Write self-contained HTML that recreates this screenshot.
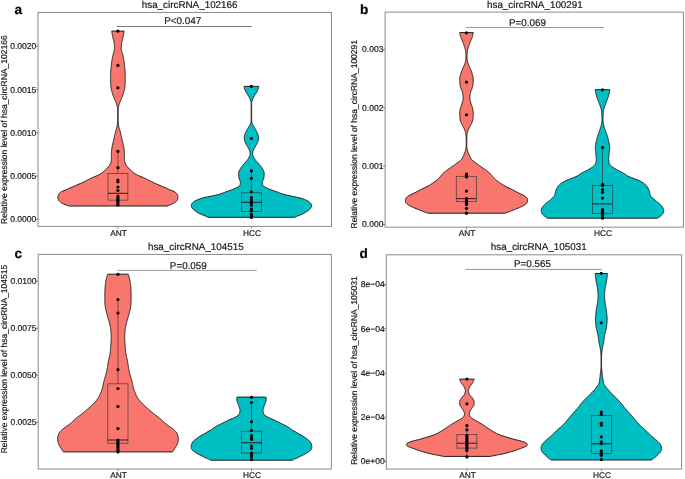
<!DOCTYPE html><html><head><meta charset="utf-8"><style>html,body{margin:0;padding:0;background:#fff;width:685px;height:479px;overflow:hidden}svg{display:block;will-change:transform}text{font-family:"Liberation Sans",sans-serif;fill:#1a1a1a;text-rendering:geometricPrecision;stroke:#1a1a1a;stroke-width:0.2px}</style></head><body>
<svg width="685" height="479" viewBox="0 0 685 479">
<rect width="685" height="479" fill="#fff"/>
<path d="M124.15,31.10 L124.05,31.60 L123.96,32.10 L123.86,32.60 L123.77,33.10 L123.67,33.60 L123.57,34.10 L123.47,34.60 L123.38,35.10 L123.28,35.60 L123.18,36.10 L123.08,36.60 L122.98,37.10 L122.88,37.60 L122.78,38.10 L122.67,38.60 L122.55,39.10 L122.42,39.60 L122.29,40.10 L122.16,40.60 L122.02,41.10 L121.89,41.60 L121.77,42.10 L121.66,42.60 L121.56,43.10 L121.48,43.60 L121.41,44.10 L121.37,44.60 L121.35,45.10 L121.34,45.60 L121.33,46.10 L121.32,46.60 L121.31,47.10 L121.31,47.60 L121.30,48.10 L121.30,48.60 L121.31,49.10 L121.34,49.60 L121.41,50.10 L121.51,50.60 L121.62,51.10 L121.76,51.60 L121.91,52.10 L122.06,52.60 L122.23,53.10 L122.40,53.60 L122.56,54.10 L122.72,54.60 L122.86,55.10 L123.00,55.60 L123.11,56.10 L123.21,56.60 L123.30,57.10 L123.39,57.60 L123.48,58.10 L123.57,58.60 L123.65,59.10 L123.74,59.60 L123.82,60.10 L123.90,60.60 L123.97,61.10 L124.05,61.60 L124.12,62.10 L124.19,62.60 L124.25,63.10 L124.31,63.60 L124.37,64.10 L124.43,64.60 L124.48,65.10 L124.53,65.60 L124.58,66.10 L124.63,66.60 L124.68,67.10 L124.73,67.60 L124.78,68.10 L124.83,68.60 L124.87,69.10 L124.92,69.60 L124.96,70.10 L125.00,70.60 L125.04,71.10 L125.07,71.60 L125.11,72.10 L125.13,72.60 L125.16,73.10 L125.17,73.60 L125.19,74.10 L125.20,74.60 L125.20,75.10 L125.20,75.60 L125.20,76.10 L125.20,76.60 L125.20,77.10 L125.20,77.60 L125.20,78.10 L125.20,78.60 L125.20,79.10 L125.20,79.60 L125.20,80.10 L125.20,80.60 L125.20,81.10 L125.20,81.60 L125.20,82.10 L125.20,82.60 L125.19,83.10 L125.17,83.60 L125.14,84.10 L125.11,84.60 L125.06,85.10 L125.01,85.60 L124.96,86.10 L124.90,86.60 L124.84,87.10 L124.78,87.60 L124.71,88.10 L124.63,88.60 L124.53,89.10 L124.42,89.60 L124.31,90.10 L124.18,90.60 L124.04,91.10 L123.90,91.60 L123.76,92.10 L123.62,92.60 L123.47,93.10 L123.32,93.60 L123.16,94.10 L122.99,94.60 L122.82,95.10 L122.64,95.60 L122.45,96.10 L122.26,96.60 L122.07,97.10 L121.87,97.60 L121.68,98.10 L121.48,98.60 L121.27,99.10 L121.04,99.60 L120.80,100.10 L120.56,100.60 L120.33,101.10 L120.10,101.60 L119.88,102.10 L119.68,102.60 L119.50,103.10 L119.35,103.60 L119.21,104.10 L119.07,104.60 L118.93,105.10 L118.80,105.60 L118.67,106.10 L118.54,106.60 L118.43,107.10 L118.34,107.60 L118.26,108.10 L118.20,108.60 L118.16,109.10 L118.15,109.60 L118.15,110.10 L118.15,110.60 L118.15,111.10 L118.15,111.60 L118.15,112.10 L118.15,112.60 L118.15,113.10 L118.15,113.60 L118.15,114.10 L118.15,114.60 L118.15,115.10 L118.15,115.60 L118.15,116.10 L118.15,116.60 L118.15,117.10 L118.15,117.60 L118.15,118.10 L118.16,118.60 L118.17,119.10 L118.18,119.60 L118.20,120.10 L118.22,120.60 L118.24,121.10 L118.27,121.60 L118.30,122.10 L118.33,122.60 L118.36,123.10 L118.39,123.60 L118.43,124.10 L118.47,124.60 L118.51,125.10 L118.57,125.60 L118.64,126.10 L118.74,126.60 L118.86,127.10 L118.99,127.60 L119.14,128.10 L119.29,128.60 L119.45,129.10 L119.61,129.60 L119.77,130.10 L119.93,130.60 L120.09,131.10 L120.24,131.60 L120.37,132.10 L120.50,132.60 L120.62,133.10 L120.73,133.60 L120.84,134.10 L120.95,134.60 L121.06,135.10 L121.16,135.60 L121.27,136.10 L121.37,136.60 L121.48,137.10 L121.58,137.60 L121.69,138.10 L121.79,138.60 L121.90,139.10 L122.01,139.60 L122.12,140.10 L122.24,140.60 L122.36,141.10 L122.49,141.60 L122.62,142.10 L122.75,142.60 L122.88,143.10 L123.01,143.60 L123.13,144.10 L123.25,144.60 L123.37,145.10 L123.48,145.60 L123.58,146.10 L123.67,146.60 L123.75,147.10 L123.83,147.60 L123.91,148.10 L123.99,148.60 L124.06,149.10 L124.13,149.60 L124.19,150.10 L124.24,150.60 L124.27,151.10 L124.30,151.60 L124.32,152.10 L124.33,152.60 L124.35,153.10 L124.36,153.60 L124.37,154.10 L124.38,154.60 L124.39,155.10 L124.40,155.60 L124.40,156.10 L124.40,156.60 L124.40,157.10 L124.40,157.60 L124.40,158.10 L124.40,158.60 L124.40,159.10 L124.40,159.60 L124.40,160.10 L124.45,160.60 L124.56,161.10 L124.69,161.60 L124.83,162.10 L124.97,162.60 L125.14,163.10 L125.33,163.60 L125.55,164.10 L125.82,164.60 L126.15,165.10 L126.51,165.60 L126.87,166.10 L127.27,166.60 L127.69,167.10 L128.14,167.60 L128.59,168.10 L129.07,168.60 L129.57,169.10 L130.09,169.60 L130.60,170.10 L131.11,170.60 L131.61,171.10 L132.15,171.60 L132.74,172.10 L133.37,172.60 L134.03,173.10 L134.76,173.60 L135.55,174.10 L136.45,174.60 L137.51,175.10 L138.62,175.60 L139.78,176.10 L140.99,176.60 L142.22,177.10 L143.40,177.60 L144.51,178.10 L145.55,178.60 L146.54,179.10 L147.49,179.60 L148.44,180.10 L149.40,180.60 L150.39,181.10 L151.42,181.60 L152.47,182.10 L153.53,182.60 L154.60,183.10 L155.69,183.60 L156.79,184.10 L157.90,184.60 L159.03,185.10 L160.18,185.60 L161.35,186.10 L162.54,186.60 L163.74,187.10 L164.92,187.60 L166.08,188.10 L167.23,188.60 L168.36,189.10 L169.50,189.60 L170.63,190.10 L171.86,190.60 L173.11,191.10 L174.22,191.60 L175.04,192.10 L175.66,192.60 L176.20,193.10 L176.63,193.60 L176.96,194.10 L177.24,194.60 L177.48,195.10 L177.66,195.60 L177.77,196.10 L177.84,196.60 L177.90,197.10 L177.94,197.60 L177.95,198.10 L177.87,198.60 L177.71,199.10 L177.49,199.60 L177.25,200.10 L176.91,200.60 L176.45,201.10 L175.92,201.60 L175.33,202.10 L174.63,202.60 L173.81,203.10 L172.89,203.60 L171.90,204.10 L170.80,204.60 L169.57,205.10 L168.24,205.60 L167.10,206.00 L68.70,206.00 L67.56,205.60 L66.23,205.10 L65.00,204.60 L63.90,204.10 L62.91,203.60 L61.99,203.10 L61.17,202.60 L60.47,202.10 L59.88,201.60 L59.35,201.10 L58.89,200.60 L58.55,200.10 L58.31,199.60 L58.09,199.10 L57.93,198.60 L57.85,198.10 L57.86,197.60 L57.90,197.10 L57.96,196.60 L58.03,196.10 L58.14,195.60 L58.32,195.10 L58.56,194.60 L58.84,194.10 L59.17,193.60 L59.60,193.10 L60.14,192.60 L60.76,192.10 L61.58,191.60 L62.69,191.10 L63.94,190.60 L65.17,190.10 L66.30,189.60 L67.44,189.10 L68.57,188.60 L69.72,188.10 L70.88,187.60 L72.06,187.10 L73.26,186.60 L74.45,186.10 L75.62,185.60 L76.77,185.10 L77.90,184.60 L79.01,184.10 L80.11,183.60 L81.20,183.10 L82.27,182.60 L83.33,182.10 L84.38,181.60 L85.41,181.10 L86.40,180.60 L87.36,180.10 L88.31,179.60 L89.26,179.10 L90.25,178.60 L91.29,178.10 L92.40,177.60 L93.58,177.10 L94.81,176.60 L96.02,176.10 L97.18,175.60 L98.29,175.10 L99.35,174.60 L100.25,174.10 L101.04,173.60 L101.77,173.10 L102.43,172.60 L103.06,172.10 L103.65,171.60 L104.19,171.10 L104.69,170.60 L105.20,170.10 L105.71,169.60 L106.23,169.10 L106.73,168.60 L107.21,168.10 L107.66,167.60 L108.11,167.10 L108.53,166.60 L108.93,166.10 L109.29,165.60 L109.65,165.10 L109.98,164.60 L110.25,164.10 L110.47,163.60 L110.66,163.10 L110.83,162.60 L110.97,162.10 L111.11,161.60 L111.24,161.10 L111.35,160.60 L111.40,160.10 L111.40,159.60 L111.40,159.10 L111.40,158.60 L111.40,158.10 L111.40,157.60 L111.40,157.10 L111.40,156.60 L111.40,156.10 L111.40,155.60 L111.41,155.10 L111.42,154.60 L111.43,154.10 L111.44,153.60 L111.45,153.10 L111.47,152.60 L111.48,152.10 L111.50,151.60 L111.53,151.10 L111.56,150.60 L111.61,150.10 L111.67,149.60 L111.74,149.10 L111.81,148.60 L111.89,148.10 L111.97,147.60 L112.05,147.10 L112.13,146.60 L112.22,146.10 L112.32,145.60 L112.43,145.10 L112.55,144.60 L112.67,144.10 L112.79,143.60 L112.92,143.10 L113.05,142.60 L113.18,142.10 L113.31,141.60 L113.44,141.10 L113.56,140.60 L113.68,140.10 L113.79,139.60 L113.90,139.10 L114.01,138.60 L114.11,138.10 L114.22,137.60 L114.32,137.10 L114.43,136.60 L114.53,136.10 L114.64,135.60 L114.74,135.10 L114.85,134.60 L114.96,134.10 L115.07,133.60 L115.18,133.10 L115.30,132.60 L115.43,132.10 L115.56,131.60 L115.71,131.10 L115.87,130.60 L116.03,130.10 L116.19,129.60 L116.35,129.10 L116.51,128.60 L116.66,128.10 L116.81,127.60 L116.94,127.10 L117.06,126.60 L117.16,126.10 L117.23,125.60 L117.29,125.10 L117.33,124.60 L117.37,124.10 L117.41,123.60 L117.44,123.10 L117.47,122.60 L117.50,122.10 L117.53,121.60 L117.56,121.10 L117.58,120.60 L117.60,120.10 L117.62,119.60 L117.63,119.10 L117.64,118.60 L117.65,118.10 L117.65,117.60 L117.65,117.10 L117.65,116.60 L117.65,116.10 L117.65,115.60 L117.65,115.10 L117.65,114.60 L117.65,114.10 L117.65,113.60 L117.65,113.10 L117.65,112.60 L117.65,112.10 L117.65,111.60 L117.65,111.10 L117.65,110.60 L117.65,110.10 L117.65,109.60 L117.64,109.10 L117.60,108.60 L117.54,108.10 L117.46,107.60 L117.37,107.10 L117.26,106.60 L117.13,106.10 L117.00,105.60 L116.87,105.10 L116.73,104.60 L116.59,104.10 L116.45,103.60 L116.30,103.10 L116.12,102.60 L115.92,102.10 L115.70,101.60 L115.47,101.10 L115.24,100.60 L115.00,100.10 L114.76,99.60 L114.53,99.10 L114.32,98.60 L114.12,98.10 L113.93,97.60 L113.73,97.10 L113.54,96.60 L113.35,96.10 L113.16,95.60 L112.98,95.10 L112.81,94.60 L112.64,94.10 L112.48,93.60 L112.33,93.10 L112.18,92.60 L112.04,92.10 L111.90,91.60 L111.76,91.10 L111.62,90.60 L111.49,90.10 L111.38,89.60 L111.27,89.10 L111.17,88.60 L111.09,88.10 L111.02,87.60 L110.96,87.10 L110.90,86.60 L110.84,86.10 L110.79,85.60 L110.74,85.10 L110.69,84.60 L110.66,84.10 L110.63,83.60 L110.61,83.10 L110.60,82.60 L110.60,82.10 L110.60,81.60 L110.60,81.10 L110.60,80.60 L110.60,80.10 L110.60,79.60 L110.60,79.10 L110.60,78.60 L110.60,78.10 L110.60,77.60 L110.60,77.10 L110.60,76.60 L110.60,76.10 L110.60,75.60 L110.60,75.10 L110.60,74.60 L110.61,74.10 L110.63,73.60 L110.64,73.10 L110.67,72.60 L110.69,72.10 L110.73,71.60 L110.76,71.10 L110.80,70.60 L110.84,70.10 L110.88,69.60 L110.93,69.10 L110.97,68.60 L111.02,68.10 L111.07,67.60 L111.12,67.10 L111.17,66.60 L111.22,66.10 L111.27,65.60 L111.32,65.10 L111.37,64.60 L111.43,64.10 L111.49,63.60 L111.55,63.10 L111.61,62.60 L111.68,62.10 L111.75,61.60 L111.83,61.10 L111.90,60.60 L111.98,60.10 L112.06,59.60 L112.15,59.10 L112.23,58.60 L112.32,58.10 L112.41,57.60 L112.50,57.10 L112.59,56.60 L112.69,56.10 L112.80,55.60 L112.94,55.10 L113.08,54.60 L113.24,54.10 L113.40,53.60 L113.57,53.10 L113.74,52.60 L113.89,52.10 L114.04,51.60 L114.18,51.10 L114.29,50.60 L114.39,50.10 L114.46,49.60 L114.49,49.10 L114.50,48.60 L114.50,48.10 L114.49,47.60 L114.49,47.10 L114.48,46.60 L114.47,46.10 L114.46,45.60 L114.45,45.10 L114.43,44.60 L114.39,44.10 L114.32,43.60 L114.24,43.10 L114.14,42.60 L114.03,42.10 L113.91,41.60 L113.78,41.10 L113.64,40.60 L113.51,40.10 L113.38,39.60 L113.25,39.10 L113.13,38.60 L113.02,38.10 L112.92,37.60 L112.82,37.10 L112.72,36.60 L112.62,36.10 L112.52,35.60 L112.42,35.10 L112.33,34.60 L112.23,34.10 L112.13,33.60 L112.03,33.10 L111.94,32.60 L111.84,32.10 L111.75,31.60 L111.65,31.10Z" fill="#F8766D" stroke="#1e1e1e" stroke-width="1.0" stroke-linejoin="round"/>
<path d="M258.80,86.40 L258.71,86.90 L258.60,87.40 L258.47,87.90 L258.32,88.40 L258.16,88.90 L257.98,89.40 L257.79,89.90 L257.58,90.40 L257.37,90.90 L257.16,91.40 L256.90,91.90 L256.60,92.40 L256.27,92.90 L255.92,93.40 L255.57,93.90 L255.23,94.40 L254.91,94.90 L254.61,95.40 L254.32,95.90 L254.02,96.40 L253.73,96.90 L253.46,97.40 L253.20,97.90 L252.97,98.40 L252.76,98.90 L252.56,99.40 L252.35,99.90 L252.15,100.40 L251.97,100.90 L251.82,101.40 L251.71,101.90 L251.66,102.40 L251.65,102.90 L251.65,103.40 L251.65,103.90 L251.65,104.40 L251.65,104.90 L251.65,105.40 L251.65,105.90 L251.65,106.40 L251.65,106.90 L251.65,107.40 L251.65,107.90 L251.65,108.40 L251.65,108.90 L251.65,109.40 L251.65,109.90 L251.65,110.40 L251.65,110.90 L251.65,111.40 L251.65,111.90 L251.65,112.40 L251.65,112.90 L251.65,113.40 L251.65,113.90 L251.65,114.40 L251.65,114.90 L251.65,115.40 L251.65,115.90 L251.65,116.40 L251.65,116.90 L251.65,117.40 L251.65,117.90 L251.65,118.40 L251.65,118.90 L251.65,119.40 L251.65,119.90 L251.67,120.40 L251.70,120.90 L251.74,121.40 L251.79,121.90 L251.84,122.40 L251.92,122.90 L252.08,123.40 L252.31,123.90 L252.58,124.40 L252.88,124.90 L253.21,125.40 L253.54,125.90 L253.85,126.40 L254.15,126.90 L254.41,127.40 L254.69,127.90 L254.96,128.40 L255.24,128.90 L255.52,129.40 L255.79,129.90 L256.05,130.40 L256.30,130.90 L256.56,131.40 L256.83,131.90 L257.09,132.40 L257.35,132.90 L257.58,133.40 L257.78,133.90 L257.95,134.40 L258.07,134.90 L258.19,135.40 L258.30,135.90 L258.40,136.40 L258.49,136.90 L258.55,137.40 L258.59,137.90 L258.60,138.40 L258.56,138.90 L258.48,139.40 L258.37,139.90 L258.23,140.40 L258.06,140.90 L257.89,141.40 L257.72,141.90 L257.54,142.40 L257.31,142.90 L257.06,143.40 L256.80,143.90 L256.54,144.40 L256.27,144.90 L255.99,145.40 L255.70,145.90 L255.42,146.40 L255.12,146.90 L254.80,147.40 L254.48,147.90 L254.19,148.40 L253.96,148.90 L253.76,149.40 L253.56,149.90 L253.37,150.40 L253.19,150.90 L253.02,151.40 L252.88,151.90 L252.77,152.40 L252.69,152.90 L252.65,153.40 L252.66,153.90 L252.72,154.40 L252.83,154.90 L252.98,155.40 L253.16,155.90 L253.38,156.40 L253.61,156.90 L253.85,157.40 L254.10,157.90 L254.35,158.40 L254.63,158.90 L254.96,159.40 L255.33,159.90 L255.74,160.40 L256.18,160.90 L256.63,161.40 L257.08,161.90 L257.52,162.40 L257.95,162.90 L258.36,163.40 L258.78,163.90 L259.22,164.40 L259.66,164.90 L260.09,165.40 L260.52,165.90 L260.93,166.40 L261.32,166.90 L261.68,167.40 L261.99,167.90 L262.28,168.40 L262.58,168.90 L262.88,169.40 L263.17,169.90 L263.44,170.40 L263.68,170.90 L263.88,171.40 L264.03,171.90 L264.13,172.40 L264.15,172.90 L264.15,173.40 L264.14,173.90 L264.13,174.40 L264.11,174.90 L264.09,175.40 L264.07,175.90 L264.04,176.40 L264.00,176.90 L263.97,177.40 L263.91,177.90 L263.76,178.40 L263.56,178.90 L263.34,179.40 L263.14,179.90 L262.94,180.40 L262.71,180.90 L262.51,181.40 L262.40,181.90 L262.40,182.40 L262.42,182.90 L262.45,183.40 L262.49,183.90 L262.58,184.40 L262.78,184.90 L263.07,185.40 L263.42,185.90 L263.91,186.40 L264.68,186.90 L265.61,187.40 L266.60,187.90 L267.63,188.40 L268.79,188.90 L270.04,189.40 L271.34,189.90 L272.69,190.40 L274.13,190.90 L275.60,191.40 L277.03,191.90 L278.33,192.40 L279.54,192.90 L280.78,193.40 L282.19,193.90 L283.91,194.40 L285.96,194.90 L288.19,195.40 L290.46,195.90 L292.77,196.40 L295.27,196.90 L297.71,197.40 L299.84,197.90 L301.55,198.40 L303.08,198.90 L304.44,199.40 L305.63,199.90 L306.69,200.40 L307.67,200.90 L308.52,201.40 L309.23,201.90 L309.81,202.40 L310.33,202.90 L310.76,203.40 L311.06,203.90 L311.24,204.40 L311.39,204.90 L311.50,205.40 L311.55,205.90 L311.50,206.40 L311.32,206.90 L311.06,207.40 L310.76,207.90 L310.41,208.40 L309.94,208.90 L309.39,209.40 L308.82,209.90 L308.22,210.40 L307.58,210.90 L306.89,211.40 L306.15,211.90 L305.36,212.40 L304.52,212.90 L303.60,213.40 L302.61,213.90 L301.48,214.40 L300.17,214.90 L298.83,215.40 L297.62,215.90 L296.59,216.40 L295.67,216.90 L295.00,217.30 L207.80,217.30 L207.13,216.90 L206.21,216.40 L205.18,215.90 L203.97,215.40 L202.63,214.90 L201.32,214.40 L200.19,213.90 L199.20,213.40 L198.28,212.90 L197.44,212.40 L196.65,211.90 L195.91,211.40 L195.22,210.90 L194.58,210.40 L193.98,209.90 L193.41,209.40 L192.86,208.90 L192.39,208.40 L192.04,207.90 L191.74,207.40 L191.48,206.90 L191.30,206.40 L191.25,205.90 L191.30,205.40 L191.41,204.90 L191.56,204.40 L191.74,203.90 L192.04,203.40 L192.47,202.90 L192.99,202.40 L193.57,201.90 L194.28,201.40 L195.13,200.90 L196.11,200.40 L197.17,199.90 L198.36,199.40 L199.72,198.90 L201.25,198.40 L202.96,197.90 L205.09,197.40 L207.53,196.90 L210.03,196.40 L212.34,195.90 L214.61,195.40 L216.84,194.90 L218.89,194.40 L220.61,193.90 L222.02,193.40 L223.26,192.90 L224.47,192.40 L225.77,191.90 L227.20,191.40 L228.67,190.90 L230.11,190.40 L231.46,189.90 L232.76,189.40 L234.01,188.90 L235.17,188.40 L236.20,187.90 L237.19,187.40 L238.12,186.90 L238.89,186.40 L239.38,185.90 L239.73,185.40 L240.02,184.90 L240.22,184.40 L240.31,183.90 L240.35,183.40 L240.38,182.90 L240.40,182.40 L240.40,181.90 L240.29,181.40 L240.09,180.90 L239.86,180.40 L239.66,179.90 L239.46,179.40 L239.24,178.90 L239.04,178.40 L238.89,177.90 L238.83,177.40 L238.80,176.90 L238.76,176.40 L238.73,175.90 L238.71,175.40 L238.69,174.90 L238.67,174.40 L238.66,173.90 L238.65,173.40 L238.65,172.90 L238.67,172.40 L238.77,171.90 L238.92,171.40 L239.12,170.90 L239.36,170.40 L239.63,169.90 L239.92,169.40 L240.22,168.90 L240.52,168.40 L240.81,167.90 L241.12,167.40 L241.48,166.90 L241.87,166.40 L242.28,165.90 L242.71,165.40 L243.14,164.90 L243.58,164.40 L244.02,163.90 L244.44,163.40 L244.85,162.90 L245.28,162.40 L245.72,161.90 L246.17,161.40 L246.62,160.90 L247.06,160.40 L247.47,159.90 L247.84,159.40 L248.17,158.90 L248.45,158.40 L248.70,157.90 L248.95,157.40 L249.19,156.90 L249.42,156.40 L249.64,155.90 L249.82,155.40 L249.97,154.90 L250.08,154.40 L250.14,153.90 L250.15,153.40 L250.11,152.90 L250.03,152.40 L249.92,151.90 L249.78,151.40 L249.61,150.90 L249.43,150.40 L249.24,149.90 L249.04,149.40 L248.84,148.90 L248.61,148.40 L248.32,147.90 L248.00,147.40 L247.68,146.90 L247.38,146.40 L247.10,145.90 L246.81,145.40 L246.53,144.90 L246.26,144.40 L246.00,143.90 L245.74,143.40 L245.49,142.90 L245.26,142.40 L245.08,141.90 L244.91,141.40 L244.74,140.90 L244.57,140.40 L244.43,139.90 L244.32,139.40 L244.24,138.90 L244.20,138.40 L244.21,137.90 L244.25,137.40 L244.31,136.90 L244.40,136.40 L244.50,135.90 L244.61,135.40 L244.73,134.90 L244.85,134.40 L245.02,133.90 L245.22,133.40 L245.45,132.90 L245.71,132.40 L245.97,131.90 L246.24,131.40 L246.50,130.90 L246.75,130.40 L247.01,129.90 L247.28,129.40 L247.56,128.90 L247.84,128.40 L248.11,127.90 L248.39,127.40 L248.65,126.90 L248.95,126.40 L249.26,125.90 L249.59,125.40 L249.92,124.90 L250.22,124.40 L250.49,123.90 L250.72,123.40 L250.88,122.90 L250.96,122.40 L251.01,121.90 L251.06,121.40 L251.10,120.90 L251.13,120.40 L251.15,119.90 L251.15,119.40 L251.15,118.90 L251.15,118.40 L251.15,117.90 L251.15,117.40 L251.15,116.90 L251.15,116.40 L251.15,115.90 L251.15,115.40 L251.15,114.90 L251.15,114.40 L251.15,113.90 L251.15,113.40 L251.15,112.90 L251.15,112.40 L251.15,111.90 L251.15,111.40 L251.15,110.90 L251.15,110.40 L251.15,109.90 L251.15,109.40 L251.15,108.90 L251.15,108.40 L251.15,107.90 L251.15,107.40 L251.15,106.90 L251.15,106.40 L251.15,105.90 L251.15,105.40 L251.15,104.90 L251.15,104.40 L251.15,103.90 L251.15,103.40 L251.15,102.90 L251.14,102.40 L251.09,101.90 L250.98,101.40 L250.83,100.90 L250.65,100.40 L250.45,99.90 L250.24,99.40 L250.04,98.90 L249.83,98.40 L249.60,97.90 L249.34,97.40 L249.07,96.90 L248.78,96.40 L248.48,95.90 L248.19,95.40 L247.89,94.90 L247.57,94.40 L247.23,93.90 L246.88,93.40 L246.53,92.90 L246.20,92.40 L245.90,91.90 L245.64,91.40 L245.43,90.90 L245.22,90.40 L245.01,89.90 L244.82,89.40 L244.64,88.90 L244.48,88.40 L244.33,87.90 L244.20,87.40 L244.09,86.90 L244.00,86.40Z" fill="#00BFC4" stroke="#1e1e1e" stroke-width="1.0" stroke-linejoin="round"/>
<g stroke="#333" stroke-width="0.7" fill="none" stroke-opacity="0.9"><line x1="117.9" y1="151.3" x2="117.9" y2="173.4"/><line x1="117.9" y1="200.1" x2="117.9" y2="206.0"/><rect x="108.0" y="173.4" width="19.90" height="26.70"/></g>
<line x1="108.0" y1="193.3" x2="127.9" y2="193.3" stroke="#2a2a2a" stroke-width="1.1"/>
<g stroke="#333" stroke-width="0.7" fill="none" stroke-opacity="0.9"><line x1="251.4" y1="170.9" x2="251.4" y2="192.8"/><line x1="251.4" y1="211.5" x2="251.4" y2="217.3"/><rect x="241.3" y="192.8" width="20.25" height="18.70"/></g>
<line x1="241.3" y1="202.3" x2="261.55" y2="202.3" stroke="#2a2a2a" stroke-width="1.1"/>
<circle cx="117.9" cy="31.1" r="1.6" fill="#000"/>
<circle cx="117.9" cy="65.3" r="1.6" fill="#000"/>
<circle cx="117.9" cy="87.8" r="1.6" fill="#000"/>
<circle cx="117.9" cy="151.3" r="1.6" fill="#000"/>
<circle cx="117.9" cy="167.7" r="1.6" fill="#000"/>
<circle cx="117.9" cy="180.0" r="1.6" fill="#000"/>
<circle cx="117.9" cy="181.8" r="1.6" fill="#000"/>
<circle cx="117.9" cy="187.0" r="1.6" fill="#000"/>
<circle cx="117.9" cy="190.5" r="1.6" fill="#000"/>
<circle cx="117.9" cy="196" r="1.6" fill="#000"/>
<circle cx="117.9" cy="197.5" r="1.6" fill="#000"/>
<circle cx="117.9" cy="199" r="1.6" fill="#000"/>
<circle cx="117.9" cy="200.5" r="1.6" fill="#000"/>
<circle cx="117.9" cy="202" r="1.6" fill="#000"/>
<circle cx="117.9" cy="203.5" r="1.6" fill="#000"/>
<circle cx="117.9" cy="205" r="1.6" fill="#000"/>
<circle cx="251.4" cy="86.4" r="1.6" fill="#000"/>
<circle cx="251.4" cy="138.5" r="1.6" fill="#000"/>
<circle cx="251.4" cy="170.9" r="1.6" fill="#000"/>
<circle cx="251.4" cy="178.4" r="1.6" fill="#000"/>
<circle cx="251.4" cy="191.8" r="1.6" fill="#000"/>
<circle cx="251.4" cy="197.6" r="1.6" fill="#000"/>
<circle cx="251.4" cy="199.6" r="1.6" fill="#000"/>
<circle cx="251.4" cy="201.5" r="1.6" fill="#000"/>
<circle cx="251.4" cy="203.3" r="1.6" fill="#000"/>
<circle cx="251.4" cy="205.3" r="1.6" fill="#000"/>
<circle cx="251.4" cy="209.0" r="1.6" fill="#000"/>
<circle cx="251.4" cy="210.8" r="1.6" fill="#000"/>
<circle cx="251.4" cy="214.3" r="1.6" fill="#000"/>
<circle cx="251.4" cy="216.0" r="1.6" fill="#000"/>
<circle cx="251.4" cy="217.5" r="1.6" fill="#000"/>
<rect x="38" y="12.45" width="293.50" height="213.95" fill="none" stroke="#8a8a8a" stroke-width="1"/>
<line x1="35.80" y1="46.35" x2="38" y2="46.35" stroke="#555" stroke-width="0.7"/>
<text x="36.40" y="49.35" font-size="8.55" text-anchor="end">0.0020</text>
<line x1="35.80" y1="89.67" x2="38" y2="89.67" stroke="#555" stroke-width="0.7"/>
<text x="36.40" y="92.67" font-size="8.55" text-anchor="end">0.0015</text>
<line x1="35.80" y1="132.8" x2="38" y2="132.8" stroke="#555" stroke-width="0.7"/>
<text x="36.40" y="135.80" font-size="8.55" text-anchor="end">0.0010</text>
<line x1="35.80" y1="176.0" x2="38" y2="176.0" stroke="#555" stroke-width="0.7"/>
<text x="36.40" y="179.00" font-size="8.55" text-anchor="end">0.0005</text>
<line x1="35.80" y1="219.25" x2="38" y2="219.25" stroke="#555" stroke-width="0.7"/>
<text x="36.40" y="222.25" font-size="8.55" text-anchor="end">0.0000</text>
<line x1="117.9" y1="226.4" x2="117.9" y2="228.60" stroke="#555" stroke-width="0.7"/>
<text x="118.50" y="236.0" font-size="8.3" text-anchor="middle">ANT</text>
<line x1="251.4" y1="226.4" x2="251.4" y2="228.60" stroke="#555" stroke-width="0.7"/>
<text x="252.00" y="236.0" font-size="8.3" text-anchor="middle">HCC</text>
<text x="141.75" y="8.1" font-size="9.85">hsa_circRNA_102166</text>
<text x="164.20" y="24.1" font-size="9.85">P&lt;0.047</text>
<line x1="117.05" y1="26.5" x2="251.9" y2="26.5" stroke="#7a7a7a" stroke-width="1"/>
<text x="14.40" y="13.6" font-size="13.6" font-weight="bold" fill="#000" style="fill:#000">a</text>
<text transform="translate(6.90,223.90) rotate(-90)" font-size="8.5">Relative expression level of hsa_circRNA_102166</text>
<path d="M473.25,32.60 L473.19,33.10 L473.12,33.60 L473.03,34.10 L472.93,34.60 L472.82,35.10 L472.70,35.60 L472.57,36.10 L472.42,36.60 L472.24,37.10 L472.04,37.60 L471.82,38.10 L471.60,38.60 L471.38,39.10 L471.16,39.60 L470.96,40.10 L470.76,40.60 L470.56,41.10 L470.37,41.60 L470.17,42.10 L469.97,42.60 L469.78,43.10 L469.60,43.60 L469.41,44.10 L469.23,44.60 L469.05,45.10 L468.86,45.60 L468.69,46.10 L468.51,46.60 L468.35,47.10 L468.21,47.60 L468.07,48.10 L467.95,48.60 L467.83,49.10 L467.71,49.60 L467.60,50.10 L467.50,50.60 L467.42,51.10 L467.34,51.60 L467.29,52.10 L467.24,52.60 L467.20,53.10 L467.16,53.60 L467.12,54.10 L467.09,54.60 L467.07,55.10 L467.05,55.60 L467.05,56.10 L467.06,56.60 L467.07,57.10 L467.08,57.60 L467.10,58.10 L467.13,58.60 L467.16,59.10 L467.20,59.60 L467.27,60.10 L467.35,60.60 L467.45,61.10 L467.56,61.60 L467.69,62.10 L467.81,62.60 L467.95,63.10 L468.09,63.60 L468.25,64.10 L468.44,64.60 L468.65,65.10 L468.87,65.60 L469.11,66.10 L469.35,66.60 L469.58,67.10 L469.81,67.60 L470.03,68.10 L470.24,68.60 L470.44,69.10 L470.65,69.60 L470.86,70.10 L471.07,70.60 L471.28,71.10 L471.48,71.60 L471.67,72.10 L471.84,72.60 L472.00,73.10 L472.15,73.60 L472.28,74.10 L472.41,74.60 L472.54,75.10 L472.67,75.60 L472.79,76.10 L472.90,76.60 L473.00,77.10 L473.08,77.60 L473.15,78.10 L473.19,78.60 L473.20,79.10 L473.20,79.60 L473.19,80.10 L473.19,80.60 L473.18,81.10 L473.16,81.60 L473.15,82.10 L473.13,82.60 L473.11,83.10 L473.09,83.60 L473.06,84.10 L473.03,84.60 L472.96,85.10 L472.86,85.60 L472.73,86.10 L472.59,86.60 L472.44,87.10 L472.28,87.60 L472.12,88.10 L471.97,88.60 L471.80,89.10 L471.61,89.60 L471.40,90.10 L471.19,90.60 L470.98,91.10 L470.79,91.60 L470.62,92.10 L470.48,92.60 L470.38,93.10 L470.30,93.60 L470.23,94.10 L470.15,94.60 L470.08,95.10 L470.02,95.60 L469.97,96.10 L469.92,96.60 L469.89,97.10 L469.86,97.60 L469.85,98.10 L469.86,98.60 L469.90,99.10 L469.97,99.60 L470.06,100.10 L470.18,100.60 L470.31,101.10 L470.45,101.60 L470.60,102.10 L470.75,102.60 L470.89,103.10 L471.03,103.60 L471.18,104.10 L471.35,104.60 L471.54,105.10 L471.73,105.60 L471.93,106.10 L472.12,106.60 L472.30,107.10 L472.46,107.60 L472.60,108.10 L472.72,108.60 L472.80,109.10 L472.87,109.60 L472.95,110.10 L473.02,110.60 L473.09,111.10 L473.15,111.60 L473.20,112.10 L473.24,112.60 L473.27,113.10 L473.29,113.60 L473.30,114.10 L473.29,114.60 L473.28,115.10 L473.26,115.60 L473.22,116.10 L473.19,116.60 L473.14,117.10 L473.10,117.60 L473.05,118.10 L473.00,118.60 L472.94,119.10 L472.87,119.60 L472.78,120.10 L472.68,120.60 L472.54,121.10 L472.37,121.60 L472.16,122.10 L471.94,122.60 L471.70,123.10 L471.45,123.60 L471.19,124.10 L470.94,124.60 L470.70,125.10 L470.45,125.60 L470.19,126.10 L469.91,126.60 L469.63,127.10 L469.36,127.60 L469.09,128.10 L468.84,128.60 L468.61,129.10 L468.41,129.60 L468.22,130.10 L468.03,130.60 L467.84,131.10 L467.67,131.60 L467.51,132.10 L467.36,132.60 L467.24,133.10 L467.15,133.60 L467.09,134.10 L467.04,134.60 L467.00,135.10 L466.95,135.60 L466.91,136.10 L466.88,136.60 L466.85,137.10 L466.82,137.60 L466.79,138.10 L466.78,138.60 L466.76,139.10 L466.75,139.60 L466.75,140.10 L466.75,140.60 L466.75,141.10 L466.75,141.60 L466.75,142.10 L466.75,142.60 L466.75,143.10 L466.75,143.60 L466.75,144.10 L466.75,144.60 L466.75,145.10 L466.76,145.60 L466.78,146.10 L466.82,146.60 L466.86,147.10 L466.91,147.60 L466.96,148.10 L467.04,148.60 L467.14,149.10 L467.25,149.60 L467.38,150.10 L467.52,150.60 L467.69,151.10 L467.86,151.60 L468.03,152.10 L468.20,152.60 L468.37,153.10 L468.55,153.60 L468.74,154.10 L468.96,154.60 L469.20,155.10 L469.45,155.60 L469.70,156.10 L469.95,156.60 L470.21,157.10 L470.47,157.60 L470.76,158.10 L471.04,158.60 L471.34,159.10 L471.68,159.60 L472.09,160.10 L472.63,160.60 L473.27,161.10 L473.96,161.60 L474.63,162.10 L475.32,162.60 L476.03,163.10 L476.74,163.60 L477.44,164.10 L478.11,164.60 L478.78,165.10 L479.46,165.60 L480.14,166.10 L480.83,166.60 L481.53,167.10 L482.23,167.60 L482.94,168.10 L483.67,168.60 L484.41,169.10 L485.14,169.60 L485.84,170.10 L486.51,170.60 L487.18,171.10 L487.81,171.60 L488.42,172.10 L489.00,172.60 L489.57,173.10 L490.10,173.60 L490.59,174.10 L491.04,174.60 L491.45,175.10 L491.86,175.60 L492.29,176.10 L492.72,176.60 L493.17,177.10 L493.62,177.60 L494.10,178.10 L494.59,178.60 L495.11,179.10 L495.65,179.60 L496.22,180.10 L496.83,180.60 L497.48,181.10 L498.15,181.60 L498.84,182.10 L499.54,182.60 L500.26,183.10 L501.00,183.60 L501.75,184.10 L502.51,184.60 L503.29,185.10 L504.11,185.60 L504.98,186.10 L505.93,186.60 L506.93,187.10 L507.97,187.60 L509.01,188.10 L510.09,188.60 L511.20,189.10 L512.28,189.60 L513.29,190.10 L514.21,190.60 L515.09,191.10 L515.97,191.60 L516.89,192.10 L517.87,192.60 L518.88,193.10 L519.90,193.60 L520.90,194.10 L521.94,194.60 L522.99,195.10 L523.95,195.60 L524.74,196.10 L525.45,196.60 L526.10,197.10 L526.62,197.60 L526.95,198.10 L527.21,198.60 L527.42,199.10 L527.56,199.60 L527.60,200.10 L527.58,200.60 L527.53,201.10 L527.47,201.60 L527.38,202.10 L527.15,202.60 L526.77,203.10 L526.30,203.60 L525.80,204.10 L525.18,204.60 L524.44,205.10 L523.61,205.60 L522.72,206.10 L521.70,206.60 L520.56,207.10 L519.36,207.60 L518.16,208.10 L516.94,208.60 L515.68,209.10 L514.41,209.60 L513.15,210.10 L511.93,210.60 L510.71,211.10 L509.45,211.60 L508.13,212.10 L506.70,212.60 L505.21,213.10 L504.90,213.20 L428.10,213.20 L427.79,213.10 L426.30,212.60 L424.87,212.10 L423.55,211.60 L422.29,211.10 L421.07,210.60 L419.85,210.10 L418.59,209.60 L417.32,209.10 L416.06,208.60 L414.84,208.10 L413.64,207.60 L412.44,207.10 L411.30,206.60 L410.28,206.10 L409.39,205.60 L408.56,205.10 L407.82,204.60 L407.20,204.10 L406.70,203.60 L406.23,203.10 L405.85,202.60 L405.62,202.10 L405.53,201.60 L405.47,201.10 L405.42,200.60 L405.40,200.10 L405.44,199.60 L405.58,199.10 L405.79,198.60 L406.05,198.10 L406.38,197.60 L406.90,197.10 L407.55,196.60 L408.26,196.10 L409.05,195.60 L410.01,195.10 L411.06,194.60 L412.10,194.10 L413.10,193.60 L414.12,193.10 L415.13,192.60 L416.11,192.10 L417.03,191.60 L417.91,191.10 L418.79,190.60 L419.71,190.10 L420.72,189.60 L421.80,189.10 L422.91,188.60 L423.99,188.10 L425.03,187.60 L426.07,187.10 L427.07,186.60 L428.02,186.10 L428.89,185.60 L429.71,185.10 L430.49,184.60 L431.25,184.10 L432.00,183.60 L432.74,183.10 L433.46,182.60 L434.16,182.10 L434.85,181.60 L435.52,181.10 L436.17,180.60 L436.78,180.10 L437.35,179.60 L437.89,179.10 L438.41,178.60 L438.90,178.10 L439.38,177.60 L439.83,177.10 L440.28,176.60 L440.71,176.10 L441.14,175.60 L441.55,175.10 L441.96,174.60 L442.41,174.10 L442.90,173.60 L443.43,173.10 L444.00,172.60 L444.58,172.10 L445.19,171.60 L445.82,171.10 L446.49,170.60 L447.16,170.10 L447.86,169.60 L448.59,169.10 L449.33,168.60 L450.06,168.10 L450.77,167.60 L451.47,167.10 L452.17,166.60 L452.86,166.10 L453.54,165.60 L454.22,165.10 L454.89,164.60 L455.56,164.10 L456.26,163.60 L456.97,163.10 L457.68,162.60 L458.37,162.10 L459.04,161.60 L459.73,161.10 L460.37,160.60 L460.91,160.10 L461.32,159.60 L461.66,159.10 L461.96,158.60 L462.24,158.10 L462.53,157.60 L462.79,157.10 L463.05,156.60 L463.30,156.10 L463.55,155.60 L463.80,155.10 L464.04,154.60 L464.26,154.10 L464.45,153.60 L464.63,153.10 L464.80,152.60 L464.97,152.10 L465.14,151.60 L465.31,151.10 L465.48,150.60 L465.62,150.10 L465.75,149.60 L465.86,149.10 L465.96,148.60 L466.04,148.10 L466.09,147.60 L466.14,147.10 L466.18,146.60 L466.22,146.10 L466.24,145.60 L466.25,145.10 L466.25,144.60 L466.25,144.10 L466.25,143.60 L466.25,143.10 L466.25,142.60 L466.25,142.10 L466.25,141.60 L466.25,141.10 L466.25,140.60 L466.25,140.10 L466.25,139.60 L466.24,139.10 L466.22,138.60 L466.21,138.10 L466.18,137.60 L466.15,137.10 L466.12,136.60 L466.09,136.10 L466.05,135.60 L466.00,135.10 L465.96,134.60 L465.91,134.10 L465.85,133.60 L465.76,133.10 L465.64,132.60 L465.49,132.10 L465.33,131.60 L465.16,131.10 L464.97,130.60 L464.78,130.10 L464.59,129.60 L464.39,129.10 L464.16,128.60 L463.91,128.10 L463.64,127.60 L463.37,127.10 L463.09,126.60 L462.81,126.10 L462.55,125.60 L462.30,125.10 L462.06,124.60 L461.81,124.10 L461.55,123.60 L461.30,123.10 L461.06,122.60 L460.84,122.10 L460.63,121.60 L460.46,121.10 L460.32,120.60 L460.22,120.10 L460.13,119.60 L460.06,119.10 L460.00,118.60 L459.95,118.10 L459.90,117.60 L459.86,117.10 L459.81,116.60 L459.78,116.10 L459.74,115.60 L459.72,115.10 L459.71,114.60 L459.70,114.10 L459.71,113.60 L459.73,113.10 L459.76,112.60 L459.80,112.10 L459.85,111.60 L459.91,111.10 L459.98,110.60 L460.05,110.10 L460.13,109.60 L460.20,109.10 L460.28,108.60 L460.40,108.10 L460.54,107.60 L460.70,107.10 L460.88,106.60 L461.07,106.10 L461.27,105.60 L461.46,105.10 L461.65,104.60 L461.82,104.10 L461.97,103.60 L462.11,103.10 L462.25,102.60 L462.40,102.10 L462.55,101.60 L462.69,101.10 L462.82,100.60 L462.94,100.10 L463.03,99.60 L463.10,99.10 L463.14,98.60 L463.15,98.10 L463.14,97.60 L463.11,97.10 L463.08,96.60 L463.03,96.10 L462.98,95.60 L462.92,95.10 L462.85,94.60 L462.77,94.10 L462.70,93.60 L462.62,93.10 L462.52,92.60 L462.38,92.10 L462.21,91.60 L462.02,91.10 L461.81,90.60 L461.60,90.10 L461.39,89.60 L461.20,89.10 L461.03,88.60 L460.88,88.10 L460.72,87.60 L460.56,87.10 L460.41,86.60 L460.27,86.10 L460.14,85.60 L460.04,85.10 L459.97,84.60 L459.94,84.10 L459.91,83.60 L459.89,83.10 L459.87,82.60 L459.85,82.10 L459.84,81.60 L459.82,81.10 L459.81,80.60 L459.81,80.10 L459.80,79.60 L459.80,79.10 L459.81,78.60 L459.85,78.10 L459.92,77.60 L460.00,77.10 L460.10,76.60 L460.21,76.10 L460.33,75.60 L460.46,75.10 L460.59,74.60 L460.72,74.10 L460.85,73.60 L461.00,73.10 L461.16,72.60 L461.33,72.10 L461.52,71.60 L461.72,71.10 L461.93,70.60 L462.14,70.10 L462.35,69.60 L462.56,69.10 L462.76,68.60 L462.97,68.10 L463.19,67.60 L463.42,67.10 L463.65,66.60 L463.89,66.10 L464.13,65.60 L464.35,65.10 L464.56,64.60 L464.75,64.10 L464.91,63.60 L465.05,63.10 L465.19,62.60 L465.31,62.10 L465.44,61.60 L465.55,61.10 L465.65,60.60 L465.73,60.10 L465.80,59.60 L465.84,59.10 L465.87,58.60 L465.90,58.10 L465.92,57.60 L465.93,57.10 L465.94,56.60 L465.95,56.10 L465.95,55.60 L465.93,55.10 L465.91,54.60 L465.88,54.10 L465.84,53.60 L465.80,53.10 L465.76,52.60 L465.71,52.10 L465.66,51.60 L465.58,51.10 L465.50,50.60 L465.40,50.10 L465.29,49.60 L465.17,49.10 L465.05,48.60 L464.93,48.10 L464.79,47.60 L464.65,47.10 L464.49,46.60 L464.31,46.10 L464.14,45.60 L463.95,45.10 L463.77,44.60 L463.59,44.10 L463.40,43.60 L463.22,43.10 L463.03,42.60 L462.83,42.10 L462.63,41.60 L462.44,41.10 L462.24,40.60 L462.04,40.10 L461.84,39.60 L461.62,39.10 L461.40,38.60 L461.18,38.10 L460.96,37.60 L460.76,37.10 L460.58,36.60 L460.43,36.10 L460.30,35.60 L460.18,35.10 L460.07,34.60 L459.97,34.10 L459.88,33.60 L459.81,33.10 L459.75,32.60Z" fill="#F8766D" stroke="#1e1e1e" stroke-width="1.0" stroke-linejoin="round"/>
<path d="M609.75,89.65 L609.70,90.15 L609.63,90.65 L609.56,91.15 L609.48,91.65 L609.39,92.15 L609.30,92.65 L609.19,93.15 L609.09,93.65 L608.97,94.15 L608.86,94.65 L608.74,95.15 L608.61,95.65 L608.46,96.15 L608.30,96.65 L608.13,97.15 L607.94,97.65 L607.75,98.15 L607.55,98.65 L607.35,99.15 L607.16,99.65 L606.97,100.15 L606.78,100.65 L606.60,101.15 L606.41,101.65 L606.22,102.15 L606.04,102.65 L605.85,103.15 L605.66,103.65 L605.48,104.15 L605.29,104.65 L605.12,105.15 L604.95,105.65 L604.78,106.15 L604.61,106.65 L604.43,107.15 L604.26,107.65 L604.09,108.15 L603.93,108.65 L603.78,109.15 L603.66,109.65 L603.55,110.15 L603.48,110.65 L603.42,111.15 L603.36,111.65 L603.31,112.15 L603.27,112.65 L603.23,113.15 L603.20,113.65 L603.17,114.15 L603.14,114.65 L603.12,115.15 L603.09,115.65 L603.07,116.15 L603.05,116.65 L603.03,117.15 L603.02,117.65 L603.01,118.15 L603.00,118.65 L603.00,119.15 L603.01,119.65 L603.04,120.15 L603.07,120.65 L603.12,121.15 L603.18,121.65 L603.24,122.15 L603.31,122.65 L603.39,123.15 L603.47,123.65 L603.56,124.15 L603.64,124.65 L603.73,125.15 L603.83,125.65 L603.95,126.15 L604.09,126.65 L604.24,127.15 L604.40,127.65 L604.56,128.15 L604.73,128.65 L604.91,129.15 L605.08,129.65 L605.25,130.15 L605.42,130.65 L605.59,131.15 L605.77,131.65 L605.96,132.15 L606.15,132.65 L606.34,133.15 L606.53,133.65 L606.71,134.15 L606.89,134.65 L607.06,135.15 L607.22,135.65 L607.37,136.15 L607.52,136.65 L607.66,137.15 L607.80,137.65 L607.94,138.15 L608.07,138.65 L608.20,139.15 L608.33,139.65 L608.45,140.15 L608.57,140.65 L608.68,141.15 L608.79,141.65 L608.90,142.15 L609.01,142.65 L609.11,143.15 L609.21,143.65 L609.30,144.15 L609.39,144.65 L609.48,145.15 L609.56,145.65 L609.65,146.15 L609.70,146.65 L609.69,147.15 L609.68,147.65 L609.65,148.15 L609.61,148.65 L609.56,149.15 L609.51,149.65 L609.45,150.15 L609.40,150.65 L609.34,151.15 L609.28,151.65 L609.23,152.15 L609.19,152.65 L609.14,153.15 L609.09,153.65 L609.04,154.15 L608.99,154.65 L608.94,155.15 L608.89,155.65 L608.85,156.15 L608.82,156.65 L608.79,157.15 L608.77,157.65 L608.75,158.15 L608.73,158.65 L608.71,159.15 L608.70,159.65 L608.70,160.15 L608.73,160.65 L608.78,161.15 L608.85,161.65 L608.92,162.15 L609.03,162.65 L609.17,163.15 L609.35,163.65 L609.58,164.15 L609.93,164.65 L610.40,165.15 L610.92,165.65 L611.46,166.15 L612.05,166.65 L612.69,167.15 L613.39,167.65 L614.13,168.15 L614.94,168.65 L615.83,169.15 L616.75,169.65 L617.68,170.15 L618.68,170.65 L619.71,171.15 L620.73,171.65 L621.68,172.15 L622.60,172.65 L623.49,173.15 L624.34,173.65 L625.13,174.15 L625.80,174.65 L626.44,175.15 L627.13,175.65 L627.98,176.15 L629.06,176.65 L630.30,177.15 L631.61,177.65 L632.88,178.15 L634.21,178.65 L635.56,179.15 L636.87,179.65 L638.04,180.15 L639.12,180.65 L640.13,181.15 L641.08,181.65 L641.96,182.15 L642.78,182.65 L643.55,183.15 L644.26,183.65 L644.88,184.15 L645.44,184.65 L645.95,185.15 L646.41,185.65 L646.82,186.15 L647.18,186.65 L647.51,187.15 L647.81,187.65 L648.08,188.15 L648.32,188.65 L648.55,189.15 L648.76,189.65 L648.96,190.15 L649.16,190.65 L649.35,191.15 L649.51,191.65 L649.63,192.15 L649.70,192.65 L649.76,193.15 L649.83,193.65 L649.94,194.15 L650.10,194.65 L650.33,195.15 L650.59,195.65 L650.90,196.15 L651.31,196.65 L651.80,197.15 L652.33,197.65 L652.85,198.15 L653.38,198.65 L653.93,199.15 L654.50,199.65 L655.07,200.15 L655.66,200.65 L656.26,201.15 L656.87,201.65 L657.49,202.15 L658.13,202.65 L658.78,203.15 L659.40,203.65 L659.96,204.15 L660.48,204.65 L660.97,205.15 L661.42,205.65 L661.82,206.15 L662.19,206.65 L662.53,207.15 L662.83,207.65 L663.07,208.15 L663.31,208.65 L663.52,209.15 L663.67,209.65 L663.70,210.15 L663.69,210.65 L663.66,211.15 L663.63,211.65 L663.58,212.15 L663.40,212.65 L663.10,213.15 L662.75,213.65 L662.39,214.15 L661.99,214.65 L661.52,215.15 L661.00,215.65 L660.42,216.15 L659.71,216.65 L658.93,217.15 L658.18,217.65 L657.47,218.15 L657.40,218.20 L547.60,218.20 L547.53,218.15 L546.82,217.65 L546.07,217.15 L545.29,216.65 L544.58,216.15 L544.00,215.65 L543.48,215.15 L543.01,214.65 L542.61,214.15 L542.25,213.65 L541.90,213.15 L541.60,212.65 L541.42,212.15 L541.37,211.65 L541.34,211.15 L541.31,210.65 L541.30,210.15 L541.33,209.65 L541.48,209.15 L541.69,208.65 L541.93,208.15 L542.17,207.65 L542.47,207.15 L542.81,206.65 L543.18,206.15 L543.58,205.65 L544.03,205.15 L544.52,204.65 L545.04,204.15 L545.60,203.65 L546.22,203.15 L546.87,202.65 L547.51,202.15 L548.13,201.65 L548.74,201.15 L549.34,200.65 L549.93,200.15 L550.50,199.65 L551.07,199.15 L551.62,198.65 L552.15,198.15 L552.67,197.65 L553.20,197.15 L553.69,196.65 L554.10,196.15 L554.41,195.65 L554.67,195.15 L554.90,194.65 L555.06,194.15 L555.17,193.65 L555.24,193.15 L555.30,192.65 L555.37,192.15 L555.49,191.65 L555.65,191.15 L555.84,190.65 L556.04,190.15 L556.24,189.65 L556.45,189.15 L556.68,188.65 L556.92,188.15 L557.19,187.65 L557.49,187.15 L557.82,186.65 L558.18,186.15 L558.59,185.65 L559.05,185.15 L559.56,184.65 L560.12,184.15 L560.74,183.65 L561.45,183.15 L562.22,182.65 L563.04,182.15 L563.92,181.65 L564.87,181.15 L565.88,180.65 L566.96,180.15 L568.13,179.65 L569.44,179.15 L570.79,178.65 L572.12,178.15 L573.39,177.65 L574.70,177.15 L575.94,176.65 L577.02,176.15 L577.87,175.65 L578.56,175.15 L579.20,174.65 L579.87,174.15 L580.66,173.65 L581.51,173.15 L582.40,172.65 L583.32,172.15 L584.27,171.65 L585.29,171.15 L586.32,170.65 L587.32,170.15 L588.25,169.65 L589.17,169.15 L590.06,168.65 L590.87,168.15 L591.61,167.65 L592.31,167.15 L592.95,166.65 L593.54,166.15 L594.08,165.65 L594.60,165.15 L595.07,164.65 L595.42,164.15 L595.65,163.65 L595.83,163.15 L595.97,162.65 L596.08,162.15 L596.15,161.65 L596.22,161.15 L596.27,160.65 L596.30,160.15 L596.30,159.65 L596.29,159.15 L596.27,158.65 L596.25,158.15 L596.23,157.65 L596.21,157.15 L596.18,156.65 L596.15,156.15 L596.11,155.65 L596.06,155.15 L596.01,154.65 L595.96,154.15 L595.91,153.65 L595.86,153.15 L595.81,152.65 L595.77,152.15 L595.72,151.65 L595.66,151.15 L595.60,150.65 L595.55,150.15 L595.49,149.65 L595.44,149.15 L595.39,148.65 L595.35,148.15 L595.32,147.65 L595.31,147.15 L595.30,146.65 L595.35,146.15 L595.44,145.65 L595.52,145.15 L595.61,144.65 L595.70,144.15 L595.79,143.65 L595.89,143.15 L595.99,142.65 L596.10,142.15 L596.21,141.65 L596.32,141.15 L596.43,140.65 L596.55,140.15 L596.67,139.65 L596.80,139.15 L596.93,138.65 L597.06,138.15 L597.20,137.65 L597.34,137.15 L597.48,136.65 L597.63,136.15 L597.78,135.65 L597.94,135.15 L598.11,134.65 L598.29,134.15 L598.47,133.65 L598.66,133.15 L598.85,132.65 L599.04,132.15 L599.23,131.65 L599.41,131.15 L599.58,130.65 L599.75,130.15 L599.92,129.65 L600.09,129.15 L600.27,128.65 L600.44,128.15 L600.60,127.65 L600.76,127.15 L600.91,126.65 L601.05,126.15 L601.17,125.65 L601.27,125.15 L601.36,124.65 L601.44,124.15 L601.53,123.65 L601.61,123.15 L601.69,122.65 L601.76,122.15 L601.82,121.65 L601.88,121.15 L601.93,120.65 L601.96,120.15 L601.99,119.65 L602.00,119.15 L602.00,118.65 L601.99,118.15 L601.98,117.65 L601.97,117.15 L601.95,116.65 L601.93,116.15 L601.91,115.65 L601.88,115.15 L601.86,114.65 L601.83,114.15 L601.80,113.65 L601.77,113.15 L601.73,112.65 L601.69,112.15 L601.64,111.65 L601.58,111.15 L601.52,110.65 L601.45,110.15 L601.34,109.65 L601.22,109.15 L601.07,108.65 L600.91,108.15 L600.74,107.65 L600.57,107.15 L600.39,106.65 L600.22,106.15 L600.05,105.65 L599.88,105.15 L599.71,104.65 L599.52,104.15 L599.34,103.65 L599.15,103.15 L598.96,102.65 L598.78,102.15 L598.59,101.65 L598.40,101.15 L598.22,100.65 L598.03,100.15 L597.84,99.65 L597.65,99.15 L597.45,98.65 L597.25,98.15 L597.06,97.65 L596.87,97.15 L596.70,96.65 L596.54,96.15 L596.39,95.65 L596.26,95.15 L596.14,94.65 L596.03,94.15 L595.91,93.65 L595.81,93.15 L595.70,92.65 L595.61,92.15 L595.52,91.65 L595.44,91.15 L595.37,90.65 L595.30,90.15 L595.25,89.65Z" fill="#00BFC4" stroke="#1e1e1e" stroke-width="1.0" stroke-linejoin="round"/>
<g stroke="#333" stroke-width="0.7" fill="none" stroke-opacity="0.9"><line x1="466.5" y1="173.5" x2="466.5" y2="176.3"/><line x1="466.5" y1="201.6" x2="466.5" y2="213.3"/><rect x="456.25" y="176.3" width="20.40" height="25.30"/></g>
<line x1="456.25" y1="198.6" x2="476.65" y2="198.6" stroke="#2a2a2a" stroke-width="1.1"/>
<g stroke="#333" stroke-width="0.7" fill="none" stroke-opacity="0.9"><line x1="602.5" y1="147.5" x2="602.5" y2="185.3"/><line x1="602.5" y1="213.4" x2="602.5" y2="218.3"/><rect x="592.4" y="185.3" width="20.30" height="28.10"/></g>
<line x1="592.4" y1="203.9" x2="612.7" y2="203.9" stroke="#2a2a2a" stroke-width="1.1"/>
<circle cx="466.5" cy="32.8" r="1.6" fill="#000"/>
<circle cx="466.5" cy="82.1" r="1.6" fill="#000"/>
<circle cx="466.5" cy="114.8" r="1.6" fill="#000"/>
<circle cx="466.5" cy="174.0" r="1.6" fill="#000"/>
<circle cx="466.5" cy="175.5" r="1.6" fill="#000"/>
<circle cx="466.5" cy="177.0" r="1.6" fill="#000"/>
<circle cx="466.5" cy="191.1" r="1.6" fill="#000"/>
<circle cx="466.5" cy="198.5" r="1.6" fill="#000"/>
<circle cx="466.5" cy="200" r="1.6" fill="#000"/>
<circle cx="466.5" cy="201.5" r="1.6" fill="#000"/>
<circle cx="466.5" cy="203" r="1.6" fill="#000"/>
<circle cx="466.5" cy="204.5" r="1.6" fill="#000"/>
<circle cx="466.5" cy="208.3" r="1.6" fill="#000"/>
<circle cx="466.5" cy="213.3" r="1.6" fill="#000"/>
<circle cx="602.5" cy="89.8" r="1.6" fill="#000"/>
<circle cx="602.5" cy="147.5" r="1.6" fill="#000"/>
<circle cx="602.5" cy="184.3" r="1.6" fill="#000"/>
<circle cx="602.5" cy="185.5" r="1.6" fill="#000"/>
<circle cx="602.5" cy="189.5" r="1.6" fill="#000"/>
<circle cx="602.5" cy="192.4" r="1.6" fill="#000"/>
<circle cx="602.5" cy="198.1" r="1.6" fill="#000"/>
<circle cx="602.5" cy="209.5" r="1.6" fill="#000"/>
<circle cx="602.5" cy="211" r="1.6" fill="#000"/>
<circle cx="602.5" cy="212.5" r="1.6" fill="#000"/>
<circle cx="602.5" cy="214" r="1.6" fill="#000"/>
<circle cx="602.5" cy="215.5" r="1.6" fill="#000"/>
<circle cx="602.5" cy="217" r="1.6" fill="#000"/>
<circle cx="602.5" cy="218.2" r="1.6" fill="#000"/>
<rect x="385.1" y="12.1" width="298.30" height="215.05" fill="none" stroke="#8a8a8a" stroke-width="1"/>
<line x1="382.90" y1="49.4" x2="385.1" y2="49.4" stroke="#555" stroke-width="0.7"/>
<text x="383.50" y="52.40" font-size="8.55" text-anchor="end">0.003</text>
<line x1="382.90" y1="107.73" x2="385.1" y2="107.73" stroke="#555" stroke-width="0.7"/>
<text x="383.50" y="110.73" font-size="8.55" text-anchor="end">0.002</text>
<line x1="382.90" y1="166.07" x2="385.1" y2="166.07" stroke="#555" stroke-width="0.7"/>
<text x="383.50" y="169.07" font-size="8.55" text-anchor="end">0.001</text>
<line x1="382.90" y1="224.4" x2="385.1" y2="224.4" stroke="#555" stroke-width="0.7"/>
<text x="383.50" y="227.40" font-size="8.55" text-anchor="end">0.000</text>
<line x1="466.5" y1="227.15" x2="466.5" y2="229.35" stroke="#555" stroke-width="0.7"/>
<text x="467.10" y="235.8" font-size="8.3" text-anchor="middle">ANT</text>
<line x1="602.5" y1="227.15" x2="602.5" y2="229.35" stroke="#555" stroke-width="0.7"/>
<text x="603.10" y="235.8" font-size="8.3" text-anchor="middle">HCC</text>
<text x="487.00" y="8.1" font-size="9.85">hsa_circRNA_100291</text>
<text x="509.00" y="25.9" font-size="9.85">P=0.069</text>
<line x1="466.0" y1="27.5" x2="603.9" y2="27.5" stroke="#999" stroke-width="1"/>
<text x="360.10" y="13.5" font-size="13.6" font-weight="bold" fill="#000" style="fill:#000">b</text>
<text transform="translate(357.30,228.50) rotate(-90)" font-size="8.5">Relative expression level of hsa_circRNA_100291</text>
<path d="M128.20,274.20 L128.37,274.70 L128.53,275.20 L128.69,275.70 L128.85,276.20 L129.00,276.70 L129.14,277.20 L129.28,277.70 L129.42,278.20 L129.54,278.70 L129.66,279.20 L129.77,279.70 L129.87,280.20 L129.97,280.70 L130.05,281.20 L130.13,281.70 L130.20,282.20 L130.28,282.70 L130.35,283.20 L130.42,283.70 L130.48,284.20 L130.54,284.70 L130.60,285.20 L130.66,285.70 L130.71,286.20 L130.75,286.70 L130.80,287.20 L130.83,287.70 L130.86,288.20 L130.89,288.70 L130.91,289.20 L130.93,289.70 L130.95,290.20 L130.97,290.70 L130.99,291.20 L131.01,291.70 L131.02,292.20 L131.04,292.70 L131.05,293.20 L131.06,293.70 L131.08,294.20 L131.08,294.70 L131.09,295.20 L131.10,295.70 L131.10,296.20 L131.10,296.70 L131.10,297.20 L131.10,297.70 L131.10,298.20 L131.10,298.70 L131.10,299.20 L131.10,299.70 L131.10,300.20 L131.09,300.70 L131.08,301.20 L131.06,301.70 L131.03,302.20 L131.01,302.70 L130.97,303.20 L130.94,303.70 L130.91,304.20 L130.87,304.70 L130.82,305.20 L130.77,305.70 L130.71,306.20 L130.65,306.70 L130.57,307.20 L130.50,307.70 L130.42,308.20 L130.33,308.70 L130.23,309.20 L130.12,309.70 L130.00,310.20 L129.88,310.70 L129.75,311.20 L129.62,311.70 L129.48,312.20 L129.34,312.70 L129.20,313.20 L129.06,313.70 L128.92,314.20 L128.79,314.70 L128.65,315.20 L128.52,315.70 L128.38,316.20 L128.24,316.70 L128.10,317.20 L127.95,317.70 L127.80,318.20 L127.65,318.70 L127.51,319.20 L127.36,319.70 L127.21,320.20 L127.07,320.70 L126.93,321.20 L126.80,321.70 L126.67,322.20 L126.54,322.70 L126.43,323.20 L126.31,323.70 L126.19,324.20 L126.08,324.70 L125.96,325.20 L125.84,325.70 L125.73,326.20 L125.61,326.70 L125.51,327.20 L125.41,327.70 L125.32,328.20 L125.23,328.70 L125.16,329.20 L125.09,329.70 L125.04,330.20 L125.00,330.70 L124.97,331.20 L124.94,331.70 L124.91,332.20 L124.88,332.70 L124.85,333.20 L124.83,333.70 L124.80,334.20 L124.78,334.70 L124.76,335.20 L124.74,335.70 L124.73,336.20 L124.72,336.70 L124.71,337.20 L124.70,337.70 L124.70,338.20 L124.70,338.70 L124.71,339.20 L124.73,339.70 L124.75,340.20 L124.78,340.70 L124.81,341.20 L124.85,341.70 L124.89,342.20 L124.92,342.70 L124.96,343.20 L124.99,343.70 L125.03,344.20 L125.06,344.70 L125.09,345.20 L125.12,345.70 L125.16,346.20 L125.19,346.70 L125.23,347.20 L125.27,347.70 L125.30,348.20 L125.34,348.70 L125.38,349.20 L125.43,349.70 L125.47,350.20 L125.52,350.70 L125.57,351.20 L125.62,351.70 L125.68,352.20 L125.74,352.70 L125.80,353.20 L125.88,353.70 L125.97,354.20 L126.06,354.70 L126.16,355.20 L126.26,355.70 L126.37,356.20 L126.48,356.70 L126.60,357.20 L126.71,357.70 L126.83,358.20 L126.95,358.70 L127.06,359.20 L127.18,359.70 L127.29,360.20 L127.40,360.70 L127.50,361.20 L127.59,361.70 L127.69,362.20 L127.77,362.70 L127.85,363.20 L127.93,363.70 L128.01,364.20 L128.09,364.70 L128.16,365.20 L128.24,365.70 L128.31,366.20 L128.39,366.70 L128.46,367.20 L128.54,367.70 L128.62,368.20 L128.71,368.70 L128.80,369.20 L128.89,369.70 L128.99,370.20 L129.10,370.70 L129.21,371.20 L129.33,371.70 L129.45,372.20 L129.57,372.70 L129.70,373.20 L129.83,373.70 L129.97,374.20 L130.10,374.70 L130.24,375.20 L130.37,375.70 L130.50,376.20 L130.64,376.70 L130.78,377.20 L130.93,377.70 L131.08,378.20 L131.23,378.70 L131.37,379.20 L131.52,379.70 L131.67,380.20 L131.81,380.70 L131.94,381.20 L132.07,381.70 L132.20,382.20 L132.31,382.70 L132.42,383.20 L132.52,383.70 L132.62,384.20 L132.72,384.70 L132.82,385.20 L132.92,385.70 L133.02,386.20 L133.13,386.70 L133.25,387.20 L133.37,387.70 L133.51,388.20 L133.65,388.70 L133.81,389.20 L133.97,389.70 L134.15,390.20 L134.33,390.70 L134.52,391.20 L134.71,391.70 L134.91,392.20 L135.12,392.70 L135.32,393.20 L135.53,393.70 L135.75,394.20 L135.96,394.70 L136.19,395.20 L136.42,395.70 L136.66,396.20 L136.92,396.70 L137.19,397.20 L137.47,397.70 L137.77,398.20 L138.11,398.70 L138.48,399.20 L138.87,399.70 L139.28,400.20 L139.70,400.70 L140.14,401.20 L140.58,401.70 L141.03,402.20 L141.49,402.70 L141.97,403.20 L142.46,403.70 L142.97,404.20 L143.48,404.70 L144.01,405.20 L144.53,405.70 L145.06,406.20 L145.60,406.70 L146.15,407.20 L146.71,407.70 L147.28,408.20 L147.85,408.70 L148.42,409.20 L149.00,409.70 L149.58,410.20 L150.17,410.70 L150.76,411.20 L151.35,411.70 L151.95,412.20 L152.55,412.70 L153.16,413.20 L153.78,413.70 L154.40,414.20 L155.04,414.70 L155.70,415.20 L156.37,415.70 L157.04,416.20 L157.70,416.70 L158.35,417.20 L158.98,417.70 L159.59,418.20 L160.18,418.70 L160.75,419.20 L161.31,419.70 L161.87,420.20 L162.42,420.70 L162.97,421.20 L163.52,421.70 L164.07,422.20 L164.60,422.70 L165.13,423.20 L165.69,423.70 L166.30,424.20 L166.98,424.70 L167.70,425.20 L168.42,425.70 L169.13,426.20 L169.84,426.70 L170.55,427.20 L171.25,427.70 L171.91,428.20 L172.57,428.70 L173.21,429.20 L173.81,429.70 L174.36,430.20 L174.89,430.70 L175.38,431.20 L175.82,431.70 L176.20,432.20 L176.54,432.70 L176.85,433.20 L177.11,433.70 L177.33,434.20 L177.52,434.70 L177.69,435.20 L177.83,435.70 L177.95,436.20 L178.07,436.70 L178.17,437.20 L178.24,437.70 L178.25,438.20 L178.25,438.70 L178.25,439.20 L178.25,439.70 L178.24,440.20 L178.19,440.70 L178.09,441.20 L177.97,441.70 L177.85,442.20 L177.71,442.70 L177.54,443.20 L177.36,443.70 L177.17,444.20 L176.97,444.70 L176.75,445.20 L176.51,445.70 L176.24,446.20 L175.93,446.70 L175.59,447.20 L175.24,447.70 L174.93,448.20 L174.63,448.70 L174.34,449.20 L174.04,449.70 L173.72,450.20 L173.39,450.70 L173.05,451.20 L172.69,451.70 L172.55,451.90 L63.35,451.90 L63.21,451.70 L62.85,451.20 L62.51,450.70 L62.18,450.20 L61.86,449.70 L61.56,449.20 L61.27,448.70 L60.97,448.20 L60.66,447.70 L60.31,447.20 L59.97,446.70 L59.66,446.20 L59.39,445.70 L59.15,445.20 L58.93,444.70 L58.73,444.20 L58.54,443.70 L58.36,443.20 L58.19,442.70 L58.05,442.20 L57.93,441.70 L57.81,441.20 L57.71,440.70 L57.66,440.20 L57.65,439.70 L57.65,439.20 L57.65,438.70 L57.65,438.20 L57.66,437.70 L57.73,437.20 L57.83,436.70 L57.95,436.20 L58.07,435.70 L58.21,435.20 L58.38,434.70 L58.57,434.20 L58.79,433.70 L59.05,433.20 L59.36,432.70 L59.70,432.20 L60.08,431.70 L60.52,431.20 L61.01,430.70 L61.54,430.20 L62.09,429.70 L62.69,429.20 L63.33,428.70 L63.99,428.20 L64.65,427.70 L65.35,427.20 L66.06,426.70 L66.77,426.20 L67.48,425.70 L68.20,425.20 L68.92,424.70 L69.60,424.20 L70.21,423.70 L70.77,423.20 L71.30,422.70 L71.83,422.20 L72.38,421.70 L72.93,421.20 L73.48,420.70 L74.03,420.20 L74.59,419.70 L75.15,419.20 L75.72,418.70 L76.31,418.20 L76.92,417.70 L77.55,417.20 L78.20,416.70 L78.86,416.20 L79.53,415.70 L80.20,415.20 L80.86,414.70 L81.50,414.20 L82.12,413.70 L82.74,413.20 L83.35,412.70 L83.95,412.20 L84.55,411.70 L85.14,411.20 L85.73,410.70 L86.32,410.20 L86.90,409.70 L87.48,409.20 L88.05,408.70 L88.62,408.20 L89.19,407.70 L89.75,407.20 L90.30,406.70 L90.84,406.20 L91.37,405.70 L91.89,405.20 L92.42,404.70 L92.93,404.20 L93.44,403.70 L93.93,403.20 L94.41,402.70 L94.87,402.20 L95.32,401.70 L95.76,401.20 L96.20,400.70 L96.62,400.20 L97.03,399.70 L97.42,399.20 L97.79,398.70 L98.13,398.20 L98.43,397.70 L98.71,397.20 L98.98,396.70 L99.24,396.20 L99.48,395.70 L99.71,395.20 L99.94,394.70 L100.15,394.20 L100.37,393.70 L100.58,393.20 L100.78,392.70 L100.99,392.20 L101.19,391.70 L101.38,391.20 L101.57,390.70 L101.75,390.20 L101.93,389.70 L102.09,389.20 L102.25,388.70 L102.39,388.20 L102.53,387.70 L102.65,387.20 L102.77,386.70 L102.88,386.20 L102.98,385.70 L103.08,385.20 L103.18,384.70 L103.28,384.20 L103.38,383.70 L103.48,383.20 L103.59,382.70 L103.70,382.20 L103.83,381.70 L103.96,381.20 L104.09,380.70 L104.23,380.20 L104.38,379.70 L104.53,379.20 L104.67,378.70 L104.82,378.20 L104.97,377.70 L105.12,377.20 L105.26,376.70 L105.40,376.20 L105.53,375.70 L105.66,375.20 L105.80,374.70 L105.93,374.20 L106.07,373.70 L106.20,373.20 L106.33,372.70 L106.45,372.20 L106.57,371.70 L106.69,371.20 L106.80,370.70 L106.91,370.20 L107.01,369.70 L107.10,369.20 L107.19,368.70 L107.28,368.20 L107.36,367.70 L107.44,367.20 L107.51,366.70 L107.59,366.20 L107.66,365.70 L107.74,365.20 L107.81,364.70 L107.89,364.20 L107.97,363.70 L108.05,363.20 L108.13,362.70 L108.21,362.20 L108.31,361.70 L108.40,361.20 L108.50,360.70 L108.61,360.20 L108.72,359.70 L108.84,359.20 L108.95,358.70 L109.07,358.20 L109.19,357.70 L109.30,357.20 L109.42,356.70 L109.53,356.20 L109.64,355.70 L109.74,355.20 L109.84,354.70 L109.93,354.20 L110.02,353.70 L110.10,353.20 L110.16,352.70 L110.22,352.20 L110.28,351.70 L110.33,351.20 L110.38,350.70 L110.43,350.20 L110.47,349.70 L110.52,349.20 L110.56,348.70 L110.60,348.20 L110.63,347.70 L110.67,347.20 L110.71,346.70 L110.74,346.20 L110.78,345.70 L110.81,345.20 L110.84,344.70 L110.87,344.20 L110.91,343.70 L110.94,343.20 L110.98,342.70 L111.01,342.20 L111.05,341.70 L111.09,341.20 L111.12,340.70 L111.15,340.20 L111.17,339.70 L111.19,339.20 L111.20,338.70 L111.20,338.20 L111.20,337.70 L111.19,337.20 L111.18,336.70 L111.17,336.20 L111.16,335.70 L111.14,335.20 L111.12,334.70 L111.10,334.20 L111.07,333.70 L111.05,333.20 L111.02,332.70 L110.99,332.20 L110.96,331.70 L110.93,331.20 L110.90,330.70 L110.86,330.20 L110.81,329.70 L110.74,329.20 L110.67,328.70 L110.58,328.20 L110.49,327.70 L110.39,327.20 L110.29,326.70 L110.17,326.20 L110.06,325.70 L109.94,325.20 L109.82,324.70 L109.71,324.20 L109.59,323.70 L109.47,323.20 L109.36,322.70 L109.23,322.20 L109.10,321.70 L108.97,321.20 L108.83,320.70 L108.69,320.20 L108.54,319.70 L108.39,319.20 L108.25,318.70 L108.10,318.20 L107.95,317.70 L107.80,317.20 L107.66,316.70 L107.52,316.20 L107.38,315.70 L107.25,315.20 L107.11,314.70 L106.98,314.20 L106.84,313.70 L106.70,313.20 L106.56,312.70 L106.42,312.20 L106.28,311.70 L106.15,311.20 L106.02,310.70 L105.90,310.20 L105.78,309.70 L105.67,309.20 L105.57,308.70 L105.48,308.20 L105.40,307.70 L105.33,307.20 L105.25,306.70 L105.19,306.20 L105.13,305.70 L105.08,305.20 L105.03,304.70 L104.99,304.20 L104.96,303.70 L104.93,303.20 L104.89,302.70 L104.87,302.20 L104.84,301.70 L104.82,301.20 L104.81,300.70 L104.80,300.20 L104.80,299.70 L104.80,299.20 L104.80,298.70 L104.80,298.20 L104.80,297.70 L104.80,297.20 L104.80,296.70 L104.80,296.20 L104.80,295.70 L104.81,295.20 L104.82,294.70 L104.82,294.20 L104.84,293.70 L104.85,293.20 L104.86,292.70 L104.88,292.20 L104.89,291.70 L104.91,291.20 L104.93,290.70 L104.95,290.20 L104.97,289.70 L104.99,289.20 L105.01,288.70 L105.04,288.20 L105.07,287.70 L105.10,287.20 L105.15,286.70 L105.19,286.20 L105.24,285.70 L105.30,285.20 L105.36,284.70 L105.42,284.20 L105.48,283.70 L105.55,283.20 L105.62,282.70 L105.70,282.20 L105.77,281.70 L105.85,281.20 L105.93,280.70 L106.03,280.20 L106.13,279.70 L106.24,279.20 L106.36,278.70 L106.48,278.20 L106.62,277.70 L106.76,277.20 L106.90,276.70 L107.05,276.20 L107.21,275.70 L107.37,275.20 L107.53,274.70 L107.70,274.20Z" fill="#F8766D" stroke="#1e1e1e" stroke-width="1.0" stroke-linejoin="round"/>
<path d="M265.90,397.10 L266.19,397.60 L266.30,398.10 L266.27,398.60 L266.22,399.10 L266.15,399.60 L266.09,400.10 L266.01,400.60 L265.91,401.10 L265.80,401.60 L265.67,402.10 L265.52,402.60 L265.35,403.10 L265.16,403.60 L264.96,404.10 L264.74,404.60 L264.49,405.10 L264.26,405.60 L264.06,406.10 L263.90,406.60 L263.75,407.10 L263.61,407.60 L263.47,408.10 L263.31,408.60 L263.15,409.10 L263.03,409.60 L263.00,410.10 L263.02,410.60 L263.05,411.10 L263.10,411.60 L263.16,412.10 L263.25,412.60 L263.37,413.10 L263.54,413.60 L263.75,414.10 L264.13,414.60 L264.69,415.10 L265.35,415.60 L266.04,416.10 L266.80,416.60 L267.67,417.10 L268.61,417.60 L269.60,418.10 L270.73,418.60 L271.96,419.10 L273.18,419.60 L274.32,420.10 L275.36,420.60 L276.36,421.10 L277.35,421.60 L278.35,422.10 L279.36,422.60 L280.37,423.10 L281.39,423.60 L282.41,424.10 L283.46,424.60 L284.52,425.10 L285.54,425.60 L286.48,426.10 L287.34,426.60 L288.15,427.10 L288.91,427.60 L289.64,428.10 L290.29,428.60 L290.90,429.10 L291.53,429.60 L292.25,430.10 L293.10,430.60 L294.04,431.10 L294.98,431.60 L295.87,432.10 L296.70,432.60 L297.51,433.10 L298.33,433.60 L299.17,434.10 L300.08,434.60 L301.01,435.10 L301.92,435.60 L302.76,436.10 L303.55,436.60 L304.30,437.10 L305.03,437.60 L305.74,438.10 L306.46,438.60 L307.16,439.10 L307.82,439.60 L308.42,440.10 L308.99,440.60 L309.52,441.10 L309.99,441.60 L310.37,442.10 L310.67,442.60 L310.93,443.10 L311.15,443.60 L311.33,444.10 L311.51,444.60 L311.66,445.10 L311.77,445.60 L311.80,446.10 L311.79,446.60 L311.77,447.10 L311.73,447.60 L311.69,448.10 L311.55,448.60 L311.30,449.10 L310.98,449.60 L310.63,450.10 L310.15,450.60 L309.54,451.10 L308.86,451.60 L308.16,452.10 L307.41,452.60 L306.59,453.10 L305.72,453.60 L304.82,454.10 L303.86,454.60 L302.84,455.10 L301.81,455.60 L300.80,456.10 L299.82,456.60 L298.84,457.10 L297.83,457.60 L296.78,458.10 L295.60,458.60 L294.42,459.10 L293.42,459.60 L292.64,460.10 L292.50,460.20 L210.50,460.20 L210.36,460.10 L209.58,459.60 L208.58,459.10 L207.40,458.60 L206.22,458.10 L205.17,457.60 L204.16,457.10 L203.18,456.60 L202.20,456.10 L201.19,455.60 L200.16,455.10 L199.14,454.60 L198.18,454.10 L197.28,453.60 L196.41,453.10 L195.59,452.60 L194.84,452.10 L194.14,451.60 L193.46,451.10 L192.85,450.60 L192.37,450.10 L192.02,449.60 L191.70,449.10 L191.45,448.60 L191.31,448.10 L191.27,447.60 L191.23,447.10 L191.21,446.60 L191.20,446.10 L191.23,445.60 L191.34,445.10 L191.49,444.60 L191.67,444.10 L191.85,443.60 L192.07,443.10 L192.33,442.60 L192.63,442.10 L193.01,441.60 L193.48,441.10 L194.01,440.60 L194.58,440.10 L195.18,439.60 L195.84,439.10 L196.54,438.60 L197.26,438.10 L197.97,437.60 L198.70,437.10 L199.45,436.60 L200.24,436.10 L201.08,435.60 L201.99,435.10 L202.92,434.60 L203.83,434.10 L204.67,433.60 L205.49,433.10 L206.30,432.60 L207.13,432.10 L208.02,431.60 L208.96,431.10 L209.90,430.60 L210.75,430.10 L211.47,429.60 L212.10,429.10 L212.71,428.60 L213.36,428.10 L214.09,427.60 L214.85,427.10 L215.66,426.60 L216.52,426.10 L217.46,425.60 L218.48,425.10 L219.54,424.60 L220.59,424.10 L221.61,423.60 L222.63,423.10 L223.64,422.60 L224.65,422.10 L225.65,421.60 L226.64,421.10 L227.64,420.60 L228.68,420.10 L229.82,419.60 L231.04,419.10 L232.27,418.60 L233.40,418.10 L234.39,417.60 L235.33,417.10 L236.20,416.60 L236.96,416.10 L237.65,415.60 L238.31,415.10 L238.87,414.60 L239.25,414.10 L239.46,413.60 L239.63,413.10 L239.75,412.60 L239.84,412.10 L239.90,411.60 L239.95,411.10 L239.98,410.60 L240.00,410.10 L239.97,409.60 L239.85,409.10 L239.69,408.60 L239.53,408.10 L239.39,407.60 L239.25,407.10 L239.10,406.60 L238.94,406.10 L238.74,405.60 L238.51,405.10 L238.26,404.60 L238.04,404.10 L237.84,403.60 L237.65,403.10 L237.48,402.60 L237.33,402.10 L237.20,401.60 L237.09,401.10 L236.99,400.60 L236.91,400.10 L236.85,399.60 L236.78,399.10 L236.73,398.60 L236.70,398.10 L236.81,397.60 L237.10,397.10Z" fill="#00BFC4" stroke="#1e1e1e" stroke-width="1.0" stroke-linejoin="round"/>
<g stroke="#333" stroke-width="0.7" fill="none" stroke-opacity="0.9"><line x1="117.95" y1="299.5" x2="117.95" y2="383.8"/><line x1="117.95" y1="443.2" x2="117.95" y2="452.0"/><rect x="107.8" y="383.8" width="20.20" height="59.40"/></g>
<line x1="107.8" y1="440.0" x2="128.0" y2="440.0" stroke="#2a2a2a" stroke-width="1.1"/>
<g stroke="#333" stroke-width="0.7" fill="none" stroke-opacity="0.9"><line x1="251.5" y1="402.5" x2="251.5" y2="431.2"/><line x1="251.5" y1="453.05" x2="251.5" y2="459.8"/><rect x="241.3" y="431.2" width="20.25" height="21.85"/></g>
<line x1="241.3" y1="442.75" x2="261.55" y2="442.75" stroke="#2a2a2a" stroke-width="1.1"/>
<circle cx="117.95" cy="274.3" r="1.6" fill="#000"/>
<circle cx="117.95" cy="299.5" r="1.6" fill="#000"/>
<circle cx="117.95" cy="313.0" r="1.6" fill="#000"/>
<circle cx="117.95" cy="369.7" r="1.6" fill="#000"/>
<circle cx="117.95" cy="388.5" r="1.6" fill="#000"/>
<circle cx="117.95" cy="406.6" r="1.6" fill="#000"/>
<circle cx="117.95" cy="428.6" r="1.6" fill="#000"/>
<circle cx="117.95" cy="440" r="1.6" fill="#000"/>
<circle cx="117.95" cy="441.5" r="1.6" fill="#000"/>
<circle cx="117.95" cy="443" r="1.6" fill="#000"/>
<circle cx="117.95" cy="444.5" r="1.6" fill="#000"/>
<circle cx="117.95" cy="446" r="1.6" fill="#000"/>
<circle cx="117.95" cy="447.5" r="1.6" fill="#000"/>
<circle cx="117.95" cy="449" r="1.6" fill="#000"/>
<circle cx="117.95" cy="450.5" r="1.6" fill="#000"/>
<circle cx="117.95" cy="452" r="1.6" fill="#000"/>
<circle cx="251.5" cy="397.3" r="1.6" fill="#000"/>
<circle cx="251.5" cy="402.5" r="1.6" fill="#000"/>
<circle cx="251.5" cy="421.8" r="1.6" fill="#000"/>
<circle cx="251.5" cy="430.5" r="1.6" fill="#000"/>
<circle cx="251.5" cy="435.5" r="1.6" fill="#000"/>
<circle cx="251.5" cy="437.5" r="1.6" fill="#000"/>
<circle cx="251.5" cy="439.5" r="1.6" fill="#000"/>
<circle cx="251.5" cy="446" r="1.6" fill="#000"/>
<circle cx="251.5" cy="448.5" r="1.6" fill="#000"/>
<circle cx="251.5" cy="453" r="1.6" fill="#000"/>
<circle cx="251.5" cy="455" r="1.6" fill="#000"/>
<circle cx="251.5" cy="457" r="1.6" fill="#000"/>
<circle cx="251.5" cy="459.5" r="1.6" fill="#000"/>
<rect x="38.2" y="254.4" width="293.15" height="214.60" fill="none" stroke="#8a8a8a" stroke-width="1"/>
<line x1="36.00" y1="281.3" x2="38.2" y2="281.3" stroke="#555" stroke-width="0.7"/>
<text x="36.60" y="284.30" font-size="8.55" text-anchor="end">0.0100</text>
<line x1="36.00" y1="328.27" x2="38.2" y2="328.27" stroke="#555" stroke-width="0.7"/>
<text x="36.60" y="331.27" font-size="8.55" text-anchor="end">0.0075</text>
<line x1="36.00" y1="375.23" x2="38.2" y2="375.23" stroke="#555" stroke-width="0.7"/>
<text x="36.60" y="378.23" font-size="8.55" text-anchor="end">0.0050</text>
<line x1="36.00" y1="422.2" x2="38.2" y2="422.2" stroke="#555" stroke-width="0.7"/>
<text x="36.60" y="425.20" font-size="8.55" text-anchor="end">0.0025</text>
<line x1="117.95" y1="469.0" x2="117.95" y2="471.20" stroke="#555" stroke-width="0.7"/>
<text x="118.55" y="477.7" font-size="8.3" text-anchor="middle">ANT</text>
<line x1="251.5" y1="469.0" x2="251.5" y2="471.20" stroke="#555" stroke-width="0.7"/>
<text x="252.10" y="477.7" font-size="8.3" text-anchor="middle">HCC</text>
<text x="147.95" y="250.3" font-size="9.85">hsa_circRNA_104515</text>
<text x="169.85" y="268.6" font-size="9.85">P=0.059</text>
<line x1="117.6" y1="270.4" x2="256.7" y2="270.4" stroke="#9a9a9a" stroke-width="1"/>
<text x="14.50" y="257.8" font-size="13.6" font-weight="bold" fill="#000" style="fill:#000">c</text>
<text transform="translate(6.80,453.30) rotate(-90)" font-size="8.5">Relative expression level of hsa_circRNA_104515</text>
<path d="M474.25,379.10 L474.05,379.60 L473.84,380.10 L473.61,380.60 L473.37,381.10 L473.12,381.60 L472.86,382.10 L472.60,382.60 L472.32,383.10 L472.03,383.60 L471.70,384.10 L471.34,384.60 L470.95,385.10 L470.57,385.60 L470.21,386.10 L469.87,386.60 L469.59,387.10 L469.37,387.60 L469.14,388.10 L468.92,388.60 L468.72,389.10 L468.56,389.60 L468.45,390.10 L468.40,390.60 L468.42,391.10 L468.47,391.60 L468.56,392.10 L468.68,392.60 L468.82,393.10 L468.97,393.60 L469.14,394.10 L469.39,394.60 L469.76,395.10 L470.20,395.60 L470.68,396.10 L471.17,396.60 L471.64,397.10 L472.05,397.60 L472.38,398.10 L472.71,398.60 L473.05,399.10 L473.37,399.60 L473.66,400.10 L473.90,400.60 L474.07,401.10 L474.15,401.60 L474.15,402.10 L474.14,402.60 L474.12,403.10 L474.10,403.60 L474.08,404.10 L474.05,404.60 L473.95,405.10 L473.74,405.60 L473.45,406.10 L473.09,406.60 L472.71,407.10 L472.32,407.60 L471.95,408.10 L471.62,408.60 L471.29,409.10 L470.95,409.60 L470.63,410.10 L470.35,410.60 L470.08,411.10 L469.84,411.60 L469.67,412.10 L469.53,412.60 L469.41,413.10 L469.32,413.60 L469.30,414.10 L469.36,414.60 L469.48,415.10 L469.65,415.60 L469.84,416.10 L470.18,416.60 L470.66,417.10 L471.23,417.60 L471.82,418.10 L472.49,418.60 L473.24,419.10 L474.05,419.60 L474.86,420.10 L475.71,420.60 L476.60,421.10 L477.49,421.60 L478.38,422.10 L479.27,422.60 L480.16,423.10 L481.03,423.60 L481.86,424.10 L482.63,424.60 L483.38,425.10 L484.11,425.60 L484.85,426.10 L485.60,426.60 L486.35,427.10 L487.10,427.60 L487.85,428.10 L488.59,428.60 L489.33,429.10 L490.08,429.60 L490.86,430.10 L491.66,430.60 L492.48,431.10 L493.32,431.60 L494.17,432.10 L495.01,432.60 L495.86,433.10 L496.78,433.60 L497.82,434.10 L499.03,434.60 L500.37,435.10 L501.81,435.60 L503.30,436.10 L504.91,436.60 L506.60,437.10 L508.30,437.60 L509.95,438.10 L511.59,438.60 L513.30,439.10 L515.16,439.60 L517.23,440.10 L519.26,440.60 L521.05,441.10 L522.74,441.60 L524.21,442.10 L525.38,442.60 L526.38,443.10 L526.98,443.60 L527.34,444.10 L527.50,444.60 L527.34,445.10 L526.98,445.60 L526.42,446.10 L525.46,446.60 L524.37,447.10 L523.10,447.60 L521.70,448.10 L520.28,448.60 L518.90,449.10 L517.53,449.60 L516.13,450.10 L514.66,450.60 L513.10,451.10 L511.45,451.60 L509.73,452.10 L507.94,452.60 L506.13,453.10 L504.21,453.60 L502.03,454.10 L499.35,454.60 L496.60,455.10 L494.10,455.60 L491.69,456.10 L490.30,456.40 L443.50,456.40 L442.11,456.10 L439.70,455.60 L437.20,455.10 L434.45,454.60 L431.77,454.10 L429.59,453.60 L427.67,453.10 L425.86,452.60 L424.07,452.10 L422.35,451.60 L420.70,451.10 L419.14,450.60 L417.67,450.10 L416.27,449.60 L414.90,449.10 L413.52,448.60 L412.10,448.10 L410.70,447.60 L409.43,447.10 L408.34,446.60 L407.38,446.10 L406.82,445.60 L406.46,445.10 L406.30,444.60 L406.46,444.10 L406.82,443.60 L407.42,443.10 L408.42,442.60 L409.59,442.10 L411.06,441.60 L412.75,441.10 L414.54,440.60 L416.57,440.10 L418.64,439.60 L420.50,439.10 L422.21,438.60 L423.85,438.10 L425.50,437.60 L427.20,437.10 L428.89,436.60 L430.50,436.10 L431.99,435.60 L433.43,435.10 L434.77,434.60 L435.98,434.10 L437.02,433.60 L437.94,433.10 L438.79,432.60 L439.63,432.10 L440.48,431.60 L441.32,431.10 L442.14,430.60 L442.94,430.10 L443.72,429.60 L444.47,429.10 L445.21,428.60 L445.95,428.10 L446.70,427.60 L447.45,427.10 L448.20,426.60 L448.95,426.10 L449.69,425.60 L450.42,425.10 L451.17,424.60 L451.94,424.10 L452.77,423.60 L453.64,423.10 L454.53,422.60 L455.42,422.10 L456.31,421.60 L457.20,421.10 L458.09,420.60 L458.94,420.10 L459.75,419.60 L460.56,419.10 L461.31,418.60 L461.98,418.10 L462.57,417.60 L463.14,417.10 L463.62,416.60 L463.96,416.10 L464.15,415.60 L464.32,415.10 L464.44,414.60 L464.50,414.10 L464.48,413.60 L464.39,413.10 L464.27,412.60 L464.13,412.10 L463.96,411.60 L463.72,411.10 L463.45,410.60 L463.17,410.10 L462.85,409.60 L462.51,409.10 L462.18,408.60 L461.85,408.10 L461.48,407.60 L461.09,407.10 L460.71,406.60 L460.35,406.10 L460.06,405.60 L459.85,405.10 L459.75,404.60 L459.72,404.10 L459.70,403.60 L459.68,403.10 L459.66,402.60 L459.65,402.10 L459.65,401.60 L459.73,401.10 L459.90,400.60 L460.14,400.10 L460.43,399.60 L460.75,399.10 L461.09,398.60 L461.42,398.10 L461.75,397.60 L462.16,397.10 L462.63,396.60 L463.12,396.10 L463.60,395.60 L464.04,395.10 L464.41,394.60 L464.66,394.10 L464.83,393.60 L464.98,393.10 L465.12,392.60 L465.24,392.10 L465.33,391.60 L465.38,391.10 L465.40,390.60 L465.35,390.10 L465.24,389.60 L465.08,389.10 L464.88,388.60 L464.66,388.10 L464.43,387.60 L464.21,387.10 L463.93,386.60 L463.59,386.10 L463.23,385.60 L462.85,385.10 L462.46,384.60 L462.10,384.10 L461.77,383.60 L461.48,383.10 L461.20,382.60 L460.94,382.10 L460.68,381.60 L460.43,381.10 L460.19,380.60 L459.96,380.10 L459.75,379.60 L459.55,379.10Z" fill="#F8766D" stroke="#1e1e1e" stroke-width="1.0" stroke-linejoin="round"/>
<path d="M607.40,273.50 L607.36,274.00 L607.32,274.50 L607.27,275.00 L607.22,275.50 L607.17,276.00 L607.11,276.50 L607.06,277.00 L607.00,277.50 L606.94,278.00 L606.87,278.50 L606.81,279.00 L606.74,279.50 L606.67,280.00 L606.60,280.50 L606.53,281.00 L606.45,281.50 L606.37,282.00 L606.27,282.50 L606.17,283.00 L606.06,283.50 L605.95,284.00 L605.84,284.50 L605.72,285.00 L605.61,285.50 L605.50,286.00 L605.39,286.50 L605.29,287.00 L605.20,287.50 L605.12,288.00 L605.05,288.50 L604.99,289.00 L604.94,289.50 L604.88,290.00 L604.83,290.50 L604.78,291.00 L604.73,291.50 L604.68,292.00 L604.64,292.50 L604.60,293.00 L604.57,293.50 L604.54,294.00 L604.52,294.50 L604.51,295.00 L604.50,295.50 L604.50,296.00 L604.51,296.50 L604.53,297.00 L604.56,297.50 L604.59,298.00 L604.62,298.50 L604.66,299.00 L604.71,299.50 L604.76,300.00 L604.81,300.50 L604.86,301.00 L604.91,301.50 L604.97,302.00 L605.02,302.50 L605.09,303.00 L605.17,303.50 L605.27,304.00 L605.36,304.50 L605.46,305.00 L605.55,305.50 L605.63,306.00 L605.72,306.50 L605.80,307.00 L605.89,307.50 L605.98,308.00 L606.06,308.50 L606.15,309.00 L606.23,309.50 L606.30,310.00 L606.37,310.50 L606.44,311.00 L606.50,311.50 L606.56,312.00 L606.61,312.50 L606.67,313.00 L606.73,313.50 L606.79,314.00 L606.84,314.50 L606.90,315.00 L606.95,315.50 L606.99,316.00 L607.03,316.50 L607.07,317.00 L607.10,317.50 L607.13,318.00 L607.14,318.50 L607.15,319.00 L607.15,319.50 L607.14,320.00 L607.12,320.50 L607.10,321.00 L607.07,321.50 L607.03,322.00 L606.99,322.50 L606.95,323.00 L606.90,323.50 L606.85,324.00 L606.79,324.50 L606.73,325.00 L606.67,325.50 L606.61,326.00 L606.55,326.50 L606.49,327.00 L606.41,327.50 L606.33,328.00 L606.23,328.50 L606.12,329.00 L606.00,329.50 L605.88,330.00 L605.75,330.50 L605.62,331.00 L605.49,331.50 L605.35,332.00 L605.22,332.50 L605.10,333.00 L604.98,333.50 L604.87,334.00 L604.77,334.50 L604.68,335.00 L604.59,335.50 L604.51,336.00 L604.43,336.50 L604.35,337.00 L604.28,337.50 L604.20,338.00 L604.13,338.50 L604.05,339.00 L603.98,339.50 L603.92,340.00 L603.85,340.50 L603.78,341.00 L603.71,341.50 L603.63,342.00 L603.55,342.50 L603.46,343.00 L603.37,343.50 L603.26,344.00 L603.15,344.50 L603.04,345.00 L602.93,345.50 L602.81,346.00 L602.71,346.50 L602.61,347.00 L602.52,347.50 L602.43,348.00 L602.35,348.50 L602.28,349.00 L602.20,349.50 L602.13,350.00 L602.06,350.50 L602.00,351.00 L601.94,351.50 L601.89,352.00 L601.84,352.50 L601.80,353.00 L601.75,353.50 L601.71,354.00 L601.67,354.50 L601.63,355.00 L601.60,355.50 L601.58,356.00 L601.56,356.50 L601.55,357.00 L601.55,357.50 L601.55,358.00 L601.55,358.50 L601.55,359.00 L601.55,359.50 L601.55,360.00 L601.55,360.50 L601.55,361.00 L601.55,361.50 L601.55,362.00 L601.55,362.50 L601.55,363.00 L601.55,363.50 L601.55,364.00 L601.55,364.50 L601.55,365.00 L601.55,365.50 L601.55,366.00 L601.55,366.50 L601.55,367.00 L601.57,367.50 L601.60,368.00 L601.64,368.50 L601.69,369.00 L601.75,369.50 L601.81,370.00 L601.87,370.50 L601.93,371.00 L601.99,371.50 L602.04,372.00 L602.09,372.50 L602.14,373.00 L602.20,373.50 L602.25,374.00 L602.31,374.50 L602.36,375.00 L602.42,375.50 L602.48,376.00 L602.54,376.50 L602.59,377.00 L602.65,377.50 L602.71,378.00 L602.76,378.50 L602.82,379.00 L602.89,379.50 L602.96,380.00 L603.03,380.50 L603.11,381.00 L603.20,381.50 L603.30,382.00 L603.42,382.50 L603.56,383.00 L603.72,383.50 L603.90,384.00 L604.15,384.50 L604.48,385.00 L604.84,385.50 L605.20,386.00 L605.56,386.50 L605.92,387.00 L606.31,387.50 L606.70,388.00 L607.11,388.50 L607.53,389.00 L607.96,389.50 L608.40,390.00 L608.84,390.50 L609.28,391.00 L609.73,391.50 L610.20,392.00 L610.69,392.50 L611.19,393.00 L611.70,393.50 L612.20,394.00 L612.70,394.50 L613.20,395.00 L613.70,395.50 L614.20,396.00 L614.70,396.50 L615.20,397.00 L615.70,397.50 L616.20,398.00 L616.70,398.50 L617.21,399.00 L617.71,399.50 L618.20,400.00 L618.66,400.50 L619.11,401.00 L619.55,401.50 L620.00,402.00 L620.46,402.50 L620.93,403.00 L621.38,403.50 L621.80,404.00 L622.17,404.50 L622.50,405.00 L622.82,405.50 L623.14,406.00 L623.50,406.50 L623.89,407.00 L624.31,407.50 L624.74,408.00 L625.19,408.50 L625.65,409.00 L626.11,409.50 L626.57,410.00 L627.02,410.50 L627.47,411.00 L627.92,411.50 L628.37,412.00 L628.82,412.50 L629.28,413.00 L629.73,413.50 L630.17,414.00 L630.61,414.50 L631.04,415.00 L631.47,415.50 L631.89,416.00 L632.31,416.50 L632.72,417.00 L633.14,417.50 L633.55,418.00 L633.97,418.50 L634.38,419.00 L634.80,419.50 L635.20,420.00 L635.61,420.50 L636.01,421.00 L636.42,421.50 L636.84,422.00 L637.27,422.50 L637.72,423.00 L638.18,423.50 L638.66,424.00 L639.16,424.50 L639.68,425.00 L640.20,425.50 L640.74,426.00 L641.28,426.50 L641.84,427.00 L642.42,427.50 L643.03,428.00 L643.64,428.50 L644.23,429.00 L644.80,429.50 L645.34,430.00 L645.88,430.50 L646.40,431.00 L646.91,431.50 L647.41,432.00 L647.90,432.50 L648.36,433.00 L648.82,433.50 L649.30,434.00 L649.82,434.50 L650.37,435.00 L650.93,435.50 L651.50,436.00 L652.09,436.50 L652.69,437.00 L653.30,437.50 L653.90,438.00 L654.49,438.50 L655.07,439.00 L655.64,439.50 L656.20,440.00 L656.75,440.50 L657.29,441.00 L657.81,441.50 L658.30,442.00 L658.77,442.50 L659.22,443.00 L659.63,443.50 L660.00,444.00 L660.33,444.50 L660.64,445.00 L660.91,445.50 L661.10,446.00 L661.25,446.50 L661.37,447.00 L661.46,447.50 L661.50,448.00 L661.48,448.50 L661.44,449.00 L661.38,449.50 L661.30,450.00 L661.16,450.50 L660.92,451.00 L660.62,451.50 L660.30,452.00 L659.95,452.50 L659.53,453.00 L659.07,453.50 L658.60,454.00 L658.11,454.50 L657.59,455.00 L657.05,455.50 L656.50,456.00 L655.95,456.50 L655.39,457.00 L654.81,457.50 L654.20,458.00 L653.53,458.50 L652.81,459.00 L652.10,459.50 L651.40,460.00 L551.20,460.00 L550.50,459.50 L549.79,459.00 L549.07,458.50 L548.40,458.00 L547.79,457.50 L547.21,457.00 L546.65,456.50 L546.10,456.00 L545.55,455.50 L545.01,455.00 L544.49,454.50 L544.00,454.00 L543.53,453.50 L543.07,453.00 L542.65,452.50 L542.30,452.00 L541.98,451.50 L541.68,451.00 L541.44,450.50 L541.30,450.00 L541.22,449.50 L541.16,449.00 L541.12,448.50 L541.10,448.00 L541.13,447.50 L541.23,447.00 L541.35,446.50 L541.50,446.00 L541.69,445.50 L541.96,445.00 L542.27,444.50 L542.60,444.00 L542.97,443.50 L543.38,443.00 L543.83,442.50 L544.30,442.00 L544.79,441.50 L545.31,441.00 L545.85,440.50 L546.40,440.00 L546.96,439.50 L547.53,439.00 L548.11,438.50 L548.70,438.00 L549.30,437.50 L549.91,437.00 L550.51,436.50 L551.10,436.00 L551.67,435.50 L552.23,435.00 L552.78,434.50 L553.30,434.00 L553.78,433.50 L554.24,433.00 L554.70,432.50 L555.19,432.00 L555.69,431.50 L556.20,431.00 L556.72,430.50 L557.26,430.00 L557.80,429.50 L558.37,429.00 L558.96,428.50 L559.57,428.00 L560.18,427.50 L560.76,427.00 L561.32,426.50 L561.86,426.00 L562.40,425.50 L562.92,425.00 L563.44,424.50 L563.94,424.00 L564.42,423.50 L564.88,423.00 L565.33,422.50 L565.76,422.00 L566.18,421.50 L566.59,421.00 L566.99,420.50 L567.40,420.00 L567.80,419.50 L568.22,419.00 L568.63,418.50 L569.05,418.00 L569.46,417.50 L569.88,417.00 L570.29,416.50 L570.71,416.00 L571.13,415.50 L571.56,415.00 L571.99,414.50 L572.43,414.00 L572.87,413.50 L573.32,413.00 L573.78,412.50 L574.23,412.00 L574.68,411.50 L575.13,411.00 L575.58,410.50 L576.03,410.00 L576.49,409.50 L576.95,409.00 L577.41,408.50 L577.86,408.00 L578.29,407.50 L578.71,407.00 L579.10,406.50 L579.46,406.00 L579.78,405.50 L580.10,405.00 L580.43,404.50 L580.80,404.00 L581.22,403.50 L581.67,403.00 L582.14,402.50 L582.60,402.00 L583.05,401.50 L583.49,401.00 L583.94,400.50 L584.40,400.00 L584.89,399.50 L585.39,399.00 L585.90,398.50 L586.40,398.00 L586.90,397.50 L587.40,397.00 L587.90,396.50 L588.40,396.00 L588.90,395.50 L589.40,395.00 L589.90,394.50 L590.40,394.00 L590.90,393.50 L591.41,393.00 L591.91,392.50 L592.40,392.00 L592.87,391.50 L593.32,391.00 L593.76,390.50 L594.20,390.00 L594.64,389.50 L595.07,389.00 L595.49,388.50 L595.90,388.00 L596.29,387.50 L596.68,387.00 L597.04,386.50 L597.40,386.00 L597.76,385.50 L598.12,385.00 L598.45,384.50 L598.70,384.00 L598.88,383.50 L599.04,383.00 L599.18,382.50 L599.30,382.00 L599.40,381.50 L599.49,381.00 L599.57,380.50 L599.64,380.00 L599.71,379.50 L599.78,379.00 L599.84,378.50 L599.89,378.00 L599.95,377.50 L600.01,377.00 L600.06,376.50 L600.12,376.00 L600.18,375.50 L600.24,375.00 L600.29,374.50 L600.35,374.00 L600.40,373.50 L600.46,373.00 L600.51,372.50 L600.56,372.00 L600.61,371.50 L600.67,371.00 L600.73,370.50 L600.79,370.00 L600.85,369.50 L600.91,369.00 L600.96,368.50 L601.00,368.00 L601.03,367.50 L601.05,367.00 L601.05,366.50 L601.05,366.00 L601.05,365.50 L601.05,365.00 L601.05,364.50 L601.05,364.00 L601.05,363.50 L601.05,363.00 L601.05,362.50 L601.05,362.00 L601.05,361.50 L601.05,361.00 L601.05,360.50 L601.05,360.00 L601.05,359.50 L601.05,359.00 L601.05,358.50 L601.05,358.00 L601.05,357.50 L601.05,357.00 L601.04,356.50 L601.02,356.00 L601.00,355.50 L600.97,355.00 L600.93,354.50 L600.89,354.00 L600.85,353.50 L600.80,353.00 L600.76,352.50 L600.71,352.00 L600.66,351.50 L600.60,351.00 L600.54,350.50 L600.47,350.00 L600.40,349.50 L600.32,349.00 L600.25,348.50 L600.17,348.00 L600.08,347.50 L599.99,347.00 L599.89,346.50 L599.79,346.00 L599.67,345.50 L599.56,345.00 L599.45,344.50 L599.34,344.00 L599.23,343.50 L599.14,343.00 L599.05,342.50 L598.97,342.00 L598.89,341.50 L598.82,341.00 L598.75,340.50 L598.68,340.00 L598.62,339.50 L598.55,339.00 L598.47,338.50 L598.40,338.00 L598.32,337.50 L598.25,337.00 L598.17,336.50 L598.09,336.00 L598.01,335.50 L597.92,335.00 L597.83,334.50 L597.73,334.00 L597.62,333.50 L597.50,333.00 L597.38,332.50 L597.25,332.00 L597.11,331.50 L596.98,331.00 L596.85,330.50 L596.72,330.00 L596.60,329.50 L596.48,329.00 L596.37,328.50 L596.27,328.00 L596.19,327.50 L596.11,327.00 L596.05,326.50 L595.99,326.00 L595.93,325.50 L595.87,325.00 L595.81,324.50 L595.75,324.00 L595.70,323.50 L595.65,323.00 L595.61,322.50 L595.57,322.00 L595.53,321.50 L595.50,321.00 L595.48,320.50 L595.46,320.00 L595.45,319.50 L595.45,319.00 L595.46,318.50 L595.47,318.00 L595.50,317.50 L595.53,317.00 L595.57,316.50 L595.61,316.00 L595.65,315.50 L595.70,315.00 L595.76,314.50 L595.81,314.00 L595.87,313.50 L595.93,313.00 L595.99,312.50 L596.04,312.00 L596.10,311.50 L596.16,311.00 L596.23,310.50 L596.30,310.00 L596.37,309.50 L596.45,309.00 L596.54,308.50 L596.62,308.00 L596.71,307.50 L596.80,307.00 L596.88,306.50 L596.97,306.00 L597.05,305.50 L597.14,305.00 L597.24,304.50 L597.33,304.00 L597.43,303.50 L597.51,303.00 L597.58,302.50 L597.63,302.00 L597.69,301.50 L597.74,301.00 L597.79,300.50 L597.84,300.00 L597.89,299.50 L597.94,299.00 L597.98,298.50 L598.01,298.00 L598.04,297.50 L598.07,297.00 L598.09,296.50 L598.10,296.00 L598.10,295.50 L598.09,295.00 L598.08,294.50 L598.06,294.00 L598.03,293.50 L598.00,293.00 L597.96,292.50 L597.92,292.00 L597.87,291.50 L597.82,291.00 L597.77,290.50 L597.72,290.00 L597.66,289.50 L597.61,289.00 L597.55,288.50 L597.48,288.00 L597.40,287.50 L597.31,287.00 L597.21,286.50 L597.10,286.00 L596.99,285.50 L596.88,285.00 L596.76,284.50 L596.65,284.00 L596.54,283.50 L596.43,283.00 L596.33,282.50 L596.23,282.00 L596.15,281.50 L596.07,281.00 L596.00,280.50 L595.93,280.00 L595.86,279.50 L595.79,279.00 L595.73,278.50 L595.66,278.00 L595.60,277.50 L595.54,277.00 L595.49,276.50 L595.43,276.00 L595.38,275.50 L595.33,275.00 L595.28,274.50 L595.24,274.00 L595.20,273.50Z" fill="#00BFC4" stroke="#1e1e1e" stroke-width="1.0" stroke-linejoin="round"/>
<g stroke="#333" stroke-width="0.7" fill="none" stroke-opacity="0.9"><line x1="466.9" y1="425.6" x2="466.9" y2="434.5"/><line x1="466.9" y1="448.1" x2="466.9" y2="456.9"/><rect x="456.9" y="434.5" width="20.00" height="13.60"/></g>
<line x1="456.9" y1="443.2" x2="476.9" y2="443.2" stroke="#2a2a2a" stroke-width="1.1"/>
<g stroke="#333" stroke-width="0.7" fill="none" stroke-opacity="0.9"><line x1="601.3" y1="411.3" x2="601.3" y2="415.4"/><line x1="601.3" y1="453.6" x2="601.3" y2="459.5"/><rect x="591.3" y="415.4" width="20.45" height="38.20"/></g>
<line x1="591.3" y1="443.8" x2="611.75" y2="443.8" stroke="#2a2a2a" stroke-width="1.1"/>
<circle cx="466.9" cy="379.1" r="1.6" fill="#000"/>
<circle cx="466.9" cy="403.8" r="1.6" fill="#000"/>
<circle cx="466.9" cy="425.6" r="1.6" fill="#000"/>
<circle cx="466.9" cy="429.8" r="1.6" fill="#000"/>
<circle cx="466.9" cy="435.5" r="1.6" fill="#000"/>
<circle cx="466.9" cy="437" r="1.6" fill="#000"/>
<circle cx="466.9" cy="438.5" r="1.6" fill="#000"/>
<circle cx="466.9" cy="440" r="1.6" fill="#000"/>
<circle cx="466.9" cy="441.5" r="1.6" fill="#000"/>
<circle cx="466.9" cy="443" r="1.6" fill="#000"/>
<circle cx="466.9" cy="444.5" r="1.6" fill="#000"/>
<circle cx="466.9" cy="446" r="1.6" fill="#000"/>
<circle cx="466.9" cy="447.5" r="1.6" fill="#000"/>
<circle cx="466.9" cy="449" r="1.6" fill="#000"/>
<circle cx="466.9" cy="450.5" r="1.6" fill="#000"/>
<circle cx="466.9" cy="456.9" r="1.6" fill="#000"/>
<circle cx="601.3" cy="273.3" r="1.6" fill="#000"/>
<circle cx="601.3" cy="322.8" r="1.6" fill="#000"/>
<circle cx="601.3" cy="412.0" r="1.6" fill="#000"/>
<circle cx="601.3" cy="414.3" r="1.6" fill="#000"/>
<circle cx="601.3" cy="423.3" r="1.6" fill="#000"/>
<circle cx="601.3" cy="425.3" r="1.6" fill="#000"/>
<circle cx="601.3" cy="436.9" r="1.6" fill="#000"/>
<circle cx="601.3" cy="441.8" r="1.6" fill="#000"/>
<circle cx="601.3" cy="443.6" r="1.6" fill="#000"/>
<circle cx="601.3" cy="451.2" r="1.6" fill="#000"/>
<circle cx="601.3" cy="453.2" r="1.6" fill="#000"/>
<circle cx="601.3" cy="455.2" r="1.6" fill="#000"/>
<circle cx="601.3" cy="459.5" r="1.6" fill="#000"/>
<rect x="386.3" y="254.8" width="295.30" height="214.20" fill="none" stroke="#8a8a8a" stroke-width="1"/>
<line x1="384.10" y1="284.4" x2="386.3" y2="284.4" stroke="#555" stroke-width="0.7"/>
<text x="384.70" y="287.40" font-size="8.55" text-anchor="end">8e−04</text>
<line x1="384.10" y1="328.65" x2="386.3" y2="328.65" stroke="#555" stroke-width="0.7"/>
<text x="384.70" y="331.65" font-size="8.55" text-anchor="end">6e−04</text>
<line x1="384.10" y1="372.9" x2="386.3" y2="372.9" stroke="#555" stroke-width="0.7"/>
<text x="384.70" y="375.90" font-size="8.55" text-anchor="end">4e−04</text>
<line x1="384.10" y1="417.15" x2="386.3" y2="417.15" stroke="#555" stroke-width="0.7"/>
<text x="384.70" y="420.15" font-size="8.55" text-anchor="end">2e−04</text>
<line x1="384.10" y1="461.4" x2="386.3" y2="461.4" stroke="#555" stroke-width="0.7"/>
<text x="384.70" y="464.40" font-size="8.55" text-anchor="end">0e+00</text>
<line x1="466.9" y1="469.0" x2="466.9" y2="471.20" stroke="#555" stroke-width="0.7"/>
<text x="467.50" y="477.7" font-size="8.3" text-anchor="middle">ANT</text>
<line x1="601.3" y1="469.0" x2="601.3" y2="471.20" stroke="#555" stroke-width="0.7"/>
<text x="601.90" y="477.7" font-size="8.3" text-anchor="middle">HCC</text>
<text x="490.85" y="250.3" font-size="9.85">hsa_circRNA_105031</text>
<text x="514.05" y="267.3" font-size="9.85">P=0.565</text>
<line x1="465.5" y1="269.4" x2="601.8" y2="269.4" stroke="#949494" stroke-width="1"/>
<text x="359.50" y="257.8" font-size="13.6" font-weight="bold" fill="#000" style="fill:#000">d</text>
<text transform="translate(357.20,464.80) rotate(-90)" font-size="8.5">Relative expression level of hsa_circRNA_105031</text>
</svg></body></html>
